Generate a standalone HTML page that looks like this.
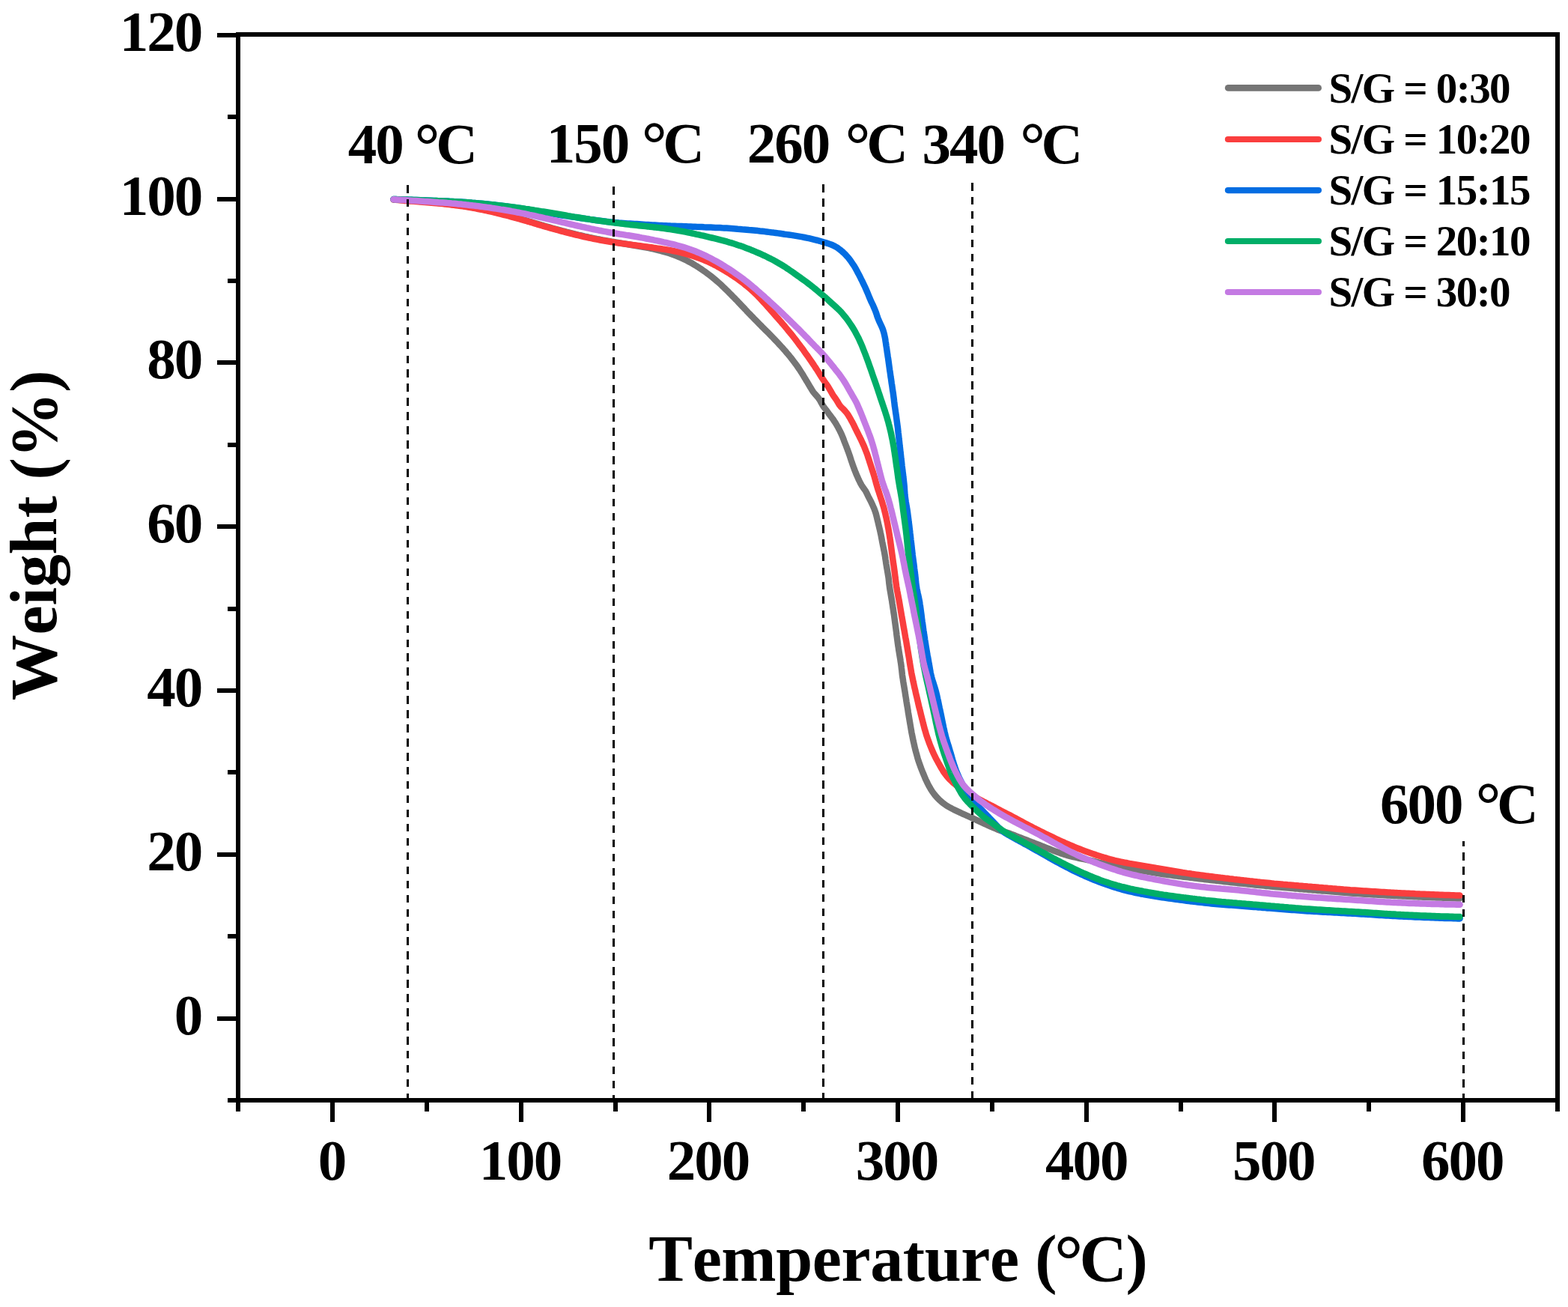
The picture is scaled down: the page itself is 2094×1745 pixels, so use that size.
<!DOCTYPE html>
<html lang="en">
<head>
<meta charset="utf-8">
<title>TGA curves: Weight (%) versus Temperature (°C)</title>
<style>
html,body{margin:0;padding:0;background:#fff;}
body{width:2094px;height:1745px;overflow:hidden;}
svg{display:block;}
text{font-family:"Liberation Serif","Times New Roman",Times,serif;font-weight:bold;fill:#000;font-kerning:none;font-variant-ligatures:none;white-space:pre;}
.tk{font-size:77px;letter-spacing:-2px;}
.an{font-size:77px;letter-spacing:-2px;}
.ti{font-size:88px;}
.lg{font-size:57px;letter-spacing:-1.58px;}
</style>
</head>
<body>
<svg xmlns="http://www.w3.org/2000/svg" width="2094" height="1745" viewBox="0 0 2094 1745">
<rect x="0" y="0" width="2094" height="1745" fill="#fff"/>
<g fill="none" stroke-linecap="round" stroke-linejoin="round" stroke-width="8.5">
<path stroke="#757575" d="M525.5 266.4L528.5 266.6L531.5 266.8L534.5 267.0L537.5 267.2L540.5 267.4L543.5 267.7L546.5 267.9L549.4 268.1L552.4 268.3L555.4 268.5L558.4 268.7L561.4 268.9L564.4 269.1L567.4 269.3L570.4 269.6L573.4 269.8L576.4 270.1L579.4 270.3L582.3 270.6L585.3 270.9L588.3 271.2L591.3 271.5L594.3 271.8L597.3 272.2L600.2 272.5L603.2 272.9L606.2 273.2L609.2 273.6L612.2 274.0L615.1 274.4L618.1 274.8L621.1 275.3L624.0 275.8L627.0 276.2L629.9 276.7L632.9 277.3L635.8 277.8L638.8 278.4L641.7 279.0L644.7 279.6L647.6 280.2L650.5 280.8L653.5 281.5L656.4 282.2L659.3 282.8L662.2 283.5L665.1 284.2L668.0 284.9L671.0 285.7L673.9 286.4L676.8 287.2L679.7 287.9L682.6 288.7L685.5 289.5L688.4 290.3L691.2 291.1L694.1 291.9L697.0 292.7L699.9 293.6L702.8 294.4L705.7 295.3L708.5 296.1L711.4 297.0L714.3 297.8L717.2 298.7L720.0 299.5L722.9 300.4L725.8 301.2L728.7 302.1L731.6 302.9L734.4 303.7L737.3 304.5L740.2 305.3L743.1 306.1L746.0 306.9L748.9 307.7L751.8 308.5L754.7 309.2L757.6 310.0L760.5 310.7L763.4 311.4L766.3 312.1L769.3 312.9L772.2 313.6L775.1 314.2L778.0 314.9L780.9 315.6L783.9 316.2L786.8 316.9L789.7 317.5L792.7 318.1L795.6 318.7L798.6 319.3L801.5 319.8L804.5 320.4L807.4 320.9L810.4 321.4L813.3 321.9L816.3 322.5L819.2 323.0L822.2 323.5L825.2 324.0L828.1 324.5L831.1 325.0L834.0 325.5L837.0 326.0L839.9 326.5L842.9 327.0L845.9 327.5L848.8 328.0L851.8 328.5L854.7 329.0L857.7 329.5L860.6 330.1L863.6 330.6L866.5 331.2L869.5 331.8L872.4 332.4L875.3 333.1L878.2 333.8L881.1 334.5L884.0 335.3L886.9 336.1L889.8 336.9L892.6 337.8L895.5 338.7L898.3 339.7L901.1 340.7L903.9 341.8L906.7 343.0L909.4 344.1L912.1 345.4L914.8 346.7L917.5 348.0L920.1 349.4L922.8 350.8L925.4 352.3L927.9 353.9L930.5 355.4L933.0 357.0L935.5 358.7L938.0 360.3L940.4 362.1L942.9 363.8L945.3 365.6L947.7 367.4L950.0 369.2L952.4 371.1L954.7 373.0L957.0 375.0L959.2 376.9L961.5 378.9L963.7 380.9L965.8 383.0L968.0 385.1L970.2 387.2L972.3 389.3L974.4 391.4L976.5 393.5L978.6 395.7L980.7 397.8L982.8 400.0L984.9 402.1L986.9 404.3L989.0 406.5L991.1 408.7L993.1 410.8L995.2 413.0L997.2 415.2L999.3 417.4L1001.4 419.5L1003.5 421.7L1005.6 423.8L1007.6 426.0L1009.7 428.1L1011.9 430.3L1014.0 432.4L1016.1 434.5L1018.2 436.7L1020.3 438.8L1022.4 440.9L1024.6 443.0L1026.7 445.1L1028.8 447.3L1030.9 449.4L1033.0 451.6L1035.0 453.7L1037.1 455.9L1039.2 458.1L1041.2 460.3L1043.2 462.5L1045.2 464.7L1047.2 467.0L1049.2 469.2L1051.1 471.5L1053.1 473.8L1055.0 476.1L1056.9 478.5L1058.7 480.8L1060.5 483.2L1062.3 485.6L1064.1 488.0L1065.8 490.5L1067.5 493.0L1069.1 495.5L1070.7 498.0L1072.3 500.6L1073.8 503.1L1075.4 505.7L1076.9 508.3L1078.5 510.8L1080.0 513.4L1081.5 516.0L1083.1 518.6L1084.6 521.1L1086.3 523.6L1088.2 525.9L1090.2 528.1L1092.2 530.4L1093.9 532.8L1095.5 535.3L1096.9 538.0L1098.4 540.6L1100.0 543.1L1101.8 545.5L1103.6 547.9L1105.4 550.3L1107.2 552.7L1109.0 555.1L1110.8 557.5L1112.6 559.9L1114.2 562.4L1115.9 564.9L1117.4 567.5L1118.9 570.1L1120.3 572.7L1121.7 575.4L1123.0 578.1L1124.2 580.8L1125.4 583.6L1126.5 586.4L1127.5 589.2L1128.6 592.0L1129.7 594.8L1130.8 597.6L1131.8 600.4L1132.9 603.2L1133.9 606.1L1134.9 608.9L1135.8 611.7L1136.7 614.6L1137.7 617.4L1138.7 620.3L1139.7 623.1L1140.7 625.9L1141.8 628.7L1142.9 631.5L1144.1 634.3L1145.3 637.0L1146.5 639.8L1147.8 642.5L1149.1 645.1L1150.6 647.8L1152.2 650.2L1154.0 652.7L1155.7 655.1L1157.1 657.7L1158.4 660.4L1159.7 663.1L1161.1 665.8L1162.5 668.4L1163.8 671.1L1165.1 673.8L1166.3 676.6L1167.5 679.3L1168.5 682.2L1169.5 685.0L1170.3 687.9L1171.0 690.8L1171.7 693.7L1172.4 696.6L1173.1 699.6L1173.8 702.5L1174.5 705.4L1175.2 708.3L1175.8 711.2L1176.5 714.2L1177.0 717.1L1177.6 720.1L1178.1 723.0L1178.7 726.0L1179.3 728.9L1179.9 731.9L1180.5 734.8L1181.1 737.7L1181.6 740.7L1182.1 743.6L1182.5 746.6L1183.0 749.6L1183.4 752.6L1183.9 755.5L1184.4 758.5L1184.9 761.4L1185.4 764.4L1185.9 767.3L1186.4 770.3L1186.8 773.3L1187.1 776.3L1187.4 779.2L1187.8 782.2L1188.2 785.2L1188.7 788.2L1189.2 791.1L1189.7 794.1L1190.2 797.0L1190.7 800.0L1191.2 802.9L1191.6 805.9L1192.1 808.9L1192.5 811.8L1193.0 814.8L1193.4 817.8L1193.9 820.7L1194.3 823.7L1194.7 826.7L1195.1 829.7L1195.5 832.6L1195.9 835.6L1196.3 838.6L1196.7 841.6L1197.1 844.5L1197.4 847.5L1197.8 850.5L1198.2 853.5L1198.6 856.4L1199.0 859.4L1199.4 862.4L1199.9 865.4L1200.3 868.3L1200.8 871.3L1201.3 874.2L1201.8 877.2L1202.3 880.2L1202.7 883.1L1203.2 886.1L1203.6 889.1L1203.9 892.0L1204.3 895.0L1204.6 898.0L1204.9 901.0L1205.3 904.0L1205.8 906.9L1206.2 909.9L1206.7 912.9L1207.2 915.8L1207.7 918.8L1208.2 921.7L1208.7 924.7L1209.1 927.7L1209.6 930.6L1210.1 933.6L1210.5 936.6L1211.0 939.5L1211.5 942.5L1212.0 945.4L1212.5 948.4L1212.9 951.4L1213.4 954.3L1213.9 957.3L1214.4 960.2L1214.9 963.2L1215.4 966.2L1215.9 969.1L1216.4 972.1L1216.9 975.0L1217.4 978.0L1218.0 980.9L1218.6 983.9L1219.2 986.8L1219.8 989.8L1220.5 992.7L1221.1 995.6L1221.8 998.5L1222.5 1001.4L1223.3 1004.3L1224.1 1007.2L1224.9 1010.1L1225.7 1013.0L1226.6 1015.9L1227.6 1018.7L1228.6 1021.5L1229.6 1024.4L1230.7 1027.2L1231.8 1030.0L1232.9 1032.7L1234.1 1035.5L1235.2 1038.3L1236.4 1041.0L1237.7 1043.7L1239.0 1046.4L1240.4 1049.1L1241.9 1051.7L1243.4 1054.3L1245.0 1056.8L1246.8 1059.2L1248.6 1061.6L1250.6 1063.9L1252.6 1066.1L1254.7 1068.2L1256.9 1070.2L1259.3 1072.1L1261.7 1073.9L1264.1 1075.6L1266.7 1077.1L1269.3 1078.6L1272.0 1080.0L1274.7 1081.3L1277.4 1082.6L1280.1 1083.9L1282.8 1085.2L1285.5 1086.5L1288.3 1087.7L1291.0 1088.9L1293.8 1090.1L1296.5 1091.3L1299.2 1092.5L1302.0 1093.8L1304.7 1095.1L1307.4 1096.4L1310.1 1097.7L1312.8 1098.9L1315.5 1100.2L1318.3 1101.4L1321.0 1102.7L1323.7 1103.9L1326.5 1105.0L1329.3 1106.2L1332.0 1107.4L1334.8 1108.4L1337.7 1109.4L1340.5 1110.3L1343.4 1111.2L1346.2 1112.1L1349.1 1113.1L1351.9 1114.2L1354.7 1115.3L1357.4 1116.4L1360.2 1117.5L1363.0 1118.5L1365.8 1119.6L1368.6 1120.7L1371.4 1121.8L1374.2 1122.9L1377.0 1124.0L1379.8 1125.0L1382.6 1126.1L1385.4 1127.2L1388.2 1128.3L1391.0 1129.4L1393.8 1130.5L1396.6 1131.6L1399.4 1132.7L1402.2 1133.8L1404.9 1134.9L1407.7 1136.0L1410.5 1137.0L1413.3 1138.1L1416.1 1139.1L1419.0 1140.0L1421.8 1140.9L1424.7 1141.8L1427.6 1142.6L1430.4 1143.3L1433.4 1144.0L1436.3 1144.7L1439.2 1145.3L1442.1 1146.0L1445.1 1146.6L1448.0 1147.2L1450.9 1147.8L1453.9 1148.4L1456.8 1149.0L1459.7 1149.7L1462.6 1150.4L1465.5 1151.1L1468.5 1151.8L1471.4 1152.4L1474.3 1153.1L1477.2 1153.8L1480.1 1154.5L1483.1 1155.1L1486.0 1155.7L1488.9 1156.3L1491.9 1156.8L1494.8 1157.4L1497.8 1157.9L1500.7 1158.4L1503.7 1158.9L1506.7 1159.4L1509.6 1159.9L1512.6 1160.4L1515.5 1160.9L1518.5 1161.4L1521.4 1161.9L1524.4 1162.4L1527.4 1162.9L1530.3 1163.4L1533.3 1163.9L1536.2 1164.4L1539.2 1164.9L1542.2 1165.3L1545.1 1165.8L1548.1 1166.3L1551.1 1166.7L1554.0 1167.2L1557.0 1167.6L1560.0 1168.0L1562.9 1168.4L1565.9 1168.8L1568.9 1169.2L1571.9 1169.6L1574.8 1169.9L1577.8 1170.3L1580.8 1170.7L1583.8 1171.0L1586.8 1171.4L1589.7 1171.8L1592.7 1172.1L1595.7 1172.5L1598.7 1172.8L1601.7 1173.2L1604.6 1173.5L1607.6 1173.9L1610.6 1174.2L1613.6 1174.6L1616.6 1174.9L1619.5 1175.2L1622.5 1175.6L1625.5 1175.9L1628.5 1176.3L1631.5 1176.6L1634.4 1176.9L1637.4 1177.2L1640.4 1177.6L1643.4 1177.9L1646.4 1178.2L1649.4 1178.5L1652.3 1178.9L1655.3 1179.2L1658.3 1179.5L1661.3 1179.8L1664.3 1180.1L1667.3 1180.4L1670.2 1180.8L1673.2 1181.1L1676.2 1181.4L1679.2 1181.7L1682.2 1182.0L1685.2 1182.3L1688.2 1182.6L1691.1 1182.9L1694.1 1183.1L1697.1 1183.4L1700.1 1183.7L1703.1 1184.0L1706.1 1184.3L1709.1 1184.5L1712.1 1184.8L1715.0 1185.1L1718.0 1185.3L1721.0 1185.6L1724.0 1185.8L1727.0 1186.1L1730.0 1186.4L1733.0 1186.6L1736.0 1186.9L1739.0 1187.1L1742.0 1187.4L1744.9 1187.6L1747.9 1187.9L1750.9 1188.1L1753.9 1188.4L1756.9 1188.6L1759.9 1188.9L1762.9 1189.1L1765.9 1189.4L1768.9 1189.6L1771.9 1189.8L1774.8 1190.1L1777.8 1190.3L1780.8 1190.6L1783.8 1190.8L1786.8 1191.1L1789.8 1191.3L1792.8 1191.5L1795.8 1191.8L1798.8 1192.0L1801.8 1192.2L1804.8 1192.5L1807.7 1192.7L1810.7 1192.9L1813.7 1193.1L1816.7 1193.3L1819.7 1193.5L1822.7 1193.7L1825.7 1193.9L1828.7 1194.1L1831.7 1194.3L1834.7 1194.4L1837.7 1194.6L1840.7 1194.8L1843.7 1194.9L1846.7 1195.1L1849.7 1195.3L1852.7 1195.4L1855.7 1195.6L1858.7 1195.7L1861.7 1195.9L1864.7 1196.0L1867.7 1196.2L1870.7 1196.3L1873.6 1196.5L1876.6 1196.6L1879.6 1196.8L1882.6 1196.9L1885.6 1197.0L1888.6 1197.2L1891.6 1197.3L1894.6 1197.4L1897.6 1197.6L1900.6 1197.7L1903.6 1197.8L1906.6 1197.9L1909.6 1198.1L1912.6 1198.2L1915.6 1198.3L1918.6 1198.4L1921.6 1198.5L1924.6 1198.6L1927.6 1198.7L1930.6 1198.9L1933.6 1199.0L1936.6 1199.1L1939.6 1199.2L1942.6 1199.3L1945.6 1199.4L1948.6 1199.5L1949.6 1199.5"/>
<path stroke="#FA3E3E" d="M525.5 266.5L528.5 266.8L531.5 267.1L534.5 267.3L537.4 267.6L540.4 267.9L543.4 268.1L546.4 268.4L549.4 268.6L552.4 268.8L555.4 269.1L558.4 269.3L561.4 269.5L564.4 269.7L567.4 270.0L570.3 270.2L573.3 270.4L576.3 270.7L579.3 270.9L582.3 271.2L585.3 271.5L588.3 271.8L591.3 272.1L594.2 272.4L597.2 272.8L600.2 273.1L603.2 273.5L606.2 273.8L609.1 274.2L612.1 274.6L615.1 275.0L618.0 275.4L621.0 275.9L624.0 276.3L626.9 276.8L629.9 277.3L632.8 277.9L635.8 278.4L638.7 279.0L641.7 279.6L644.6 280.2L647.5 280.8L650.5 281.4L653.4 282.1L656.3 282.7L659.2 283.4L662.2 284.1L665.1 284.8L668.0 285.5L670.9 286.3L673.8 287.0L676.7 287.7L679.6 288.5L682.5 289.3L685.4 290.1L688.3 290.9L691.2 291.7L694.1 292.5L697.0 293.3L699.8 294.2L702.7 295.0L705.6 295.8L708.5 296.7L711.4 297.5L714.2 298.4L717.1 299.3L720.0 300.1L722.9 301.0L725.7 301.8L728.6 302.6L731.5 303.5L734.4 304.3L737.3 305.1L740.2 305.9L743.1 306.7L745.9 307.5L748.8 308.3L751.7 309.0L754.6 309.8L757.6 310.6L760.5 311.3L763.4 312.0L766.3 312.8L769.2 313.5L772.1 314.2L775.0 314.9L777.9 315.6L780.9 316.3L783.8 316.9L786.7 317.6L789.7 318.2L792.6 318.8L795.5 319.4L798.5 319.9L801.4 320.5L804.4 321.0L807.3 321.5L810.3 322.0L813.2 322.5L816.2 323.0L819.2 323.4L822.1 323.9L825.1 324.3L828.1 324.7L831.1 325.1L834.0 325.5L837.0 325.9L840.0 326.3L842.9 326.7L845.9 327.1L848.9 327.5L851.9 327.9L854.8 328.3L857.8 328.7L860.8 329.1L863.8 329.5L866.7 329.9L869.7 330.3L872.7 330.8L875.6 331.2L878.6 331.6L881.6 332.0L884.6 332.5L887.5 332.9L890.5 333.4L893.4 333.9L896.4 334.4L899.3 335.0L902.3 335.6L905.2 336.2L908.1 336.9L911.0 337.6L913.9 338.4L916.8 339.2L919.7 340.0L922.5 340.9L925.4 341.8L928.2 342.7L931.0 343.7L933.9 344.7L936.7 345.7L939.4 346.8L942.2 348.0L944.9 349.2L947.6 350.4L950.3 351.7L953.0 353.1L955.7 354.4L958.3 355.9L960.9 357.3L963.5 358.8L966.1 360.3L968.7 361.8L971.2 363.4L973.8 365.0L976.3 366.6L978.8 368.2L981.3 369.9L983.8 371.6L986.2 373.3L988.6 375.1L991.0 376.9L993.4 378.7L995.7 380.6L998.1 382.5L1000.3 384.4L1002.6 386.4L1004.8 388.4L1007.0 390.4L1009.2 392.5L1011.3 394.6L1013.4 396.7L1015.5 398.9L1017.5 401.1L1019.5 403.3L1021.5 405.5L1023.5 407.7L1025.5 410.0L1027.5 412.2L1029.5 414.5L1031.5 416.7L1033.5 419.0L1035.4 421.2L1037.4 423.5L1039.4 425.7L1041.4 428.0L1043.4 430.2L1045.3 432.5L1047.3 434.8L1049.2 437.1L1051.1 439.4L1053.0 441.7L1054.9 444.0L1056.8 446.3L1058.7 448.7L1060.5 451.0L1062.4 453.4L1064.2 455.8L1066.0 458.2L1067.8 460.6L1069.6 463.0L1071.4 465.4L1073.2 467.8L1074.9 470.3L1076.6 472.7L1078.4 475.1L1080.1 477.6L1081.8 480.1L1083.5 482.5L1085.2 485.0L1086.9 487.5L1088.5 490.0L1090.2 492.5L1091.8 495.0L1093.4 497.6L1095.0 500.1L1096.6 502.6L1098.2 505.2L1099.9 507.7L1101.6 510.1L1103.3 512.6L1105.1 515.0L1106.7 517.5L1108.2 520.1L1109.7 522.7L1111.2 525.3L1112.7 527.9L1114.4 530.3L1116.2 532.8L1117.8 535.3L1119.3 537.8L1120.8 540.4L1122.6 542.7L1124.7 544.8L1126.9 546.9L1128.9 549.1L1130.8 551.4L1132.5 553.8L1134.1 556.4L1135.6 559.0L1137.0 561.6L1138.5 564.2L1139.9 566.9L1141.2 569.6L1142.5 572.3L1143.8 575.0L1145.2 577.7L1146.5 580.3L1147.8 583.0L1149.2 585.7L1150.5 588.4L1151.7 591.1L1153.0 593.9L1154.2 596.6L1155.3 599.4L1156.4 602.2L1157.5 605.0L1158.5 607.8L1159.4 610.7L1160.4 613.5L1161.3 616.4L1162.2 619.2L1163.1 622.1L1164.0 624.9L1165.0 627.8L1165.9 630.6L1166.8 633.5L1167.7 636.4L1168.5 639.3L1169.3 642.2L1170.0 645.0L1170.9 647.9L1171.7 650.8L1172.6 653.7L1173.6 656.5L1174.5 659.4L1175.4 662.2L1176.3 665.1L1177.3 667.9L1178.2 670.8L1179.0 673.7L1179.9 676.5L1180.7 679.4L1181.4 682.3L1182.2 685.3L1182.8 688.2L1183.5 691.1L1184.1 694.0L1184.7 697.0L1185.3 699.9L1185.8 702.9L1186.4 705.8L1186.9 708.8L1187.4 711.7L1187.9 714.7L1188.3 717.7L1188.8 720.6L1189.2 723.6L1189.6 726.6L1190.0 729.5L1190.4 732.5L1190.8 735.5L1191.2 738.5L1191.6 741.4L1192.0 744.4L1192.4 747.4L1192.8 750.4L1193.2 753.3L1193.7 756.3L1194.1 759.3L1194.5 762.2L1194.9 765.2L1195.3 768.2L1195.6 771.2L1196.0 774.1L1196.4 777.1L1196.8 780.1L1197.2 783.1L1197.7 786.0L1198.2 789.0L1198.8 791.9L1199.3 794.9L1199.9 797.8L1200.5 800.8L1201.0 803.7L1201.5 806.7L1202.0 809.6L1202.5 812.6L1203.0 815.5L1203.5 818.5L1204.0 821.5L1204.5 824.4L1205.1 827.4L1205.6 830.3L1206.1 833.3L1206.6 836.2L1207.1 839.2L1207.7 842.1L1208.2 845.1L1208.7 848.1L1209.2 851.0L1209.8 854.0L1210.3 856.9L1210.8 859.9L1211.3 862.8L1211.8 865.8L1212.3 868.7L1212.8 871.7L1213.3 874.7L1213.8 877.6L1214.3 880.6L1214.7 883.5L1215.2 886.5L1215.7 889.5L1216.2 892.4L1216.7 895.4L1217.2 898.3L1217.8 901.3L1218.4 904.2L1219.0 907.2L1219.6 910.1L1220.3 913.0L1220.9 916.0L1221.6 918.9L1222.3 921.8L1222.9 924.7L1223.6 927.7L1224.3 930.6L1225.0 933.5L1225.7 936.4L1226.3 939.3L1227.0 942.3L1227.7 945.2L1228.5 948.1L1229.2 951.0L1229.9 953.9L1230.6 956.8L1231.3 959.7L1232.1 962.6L1232.8 965.6L1233.6 968.5L1234.3 971.4L1235.1 974.3L1236.0 977.1L1236.8 980.0L1237.7 982.9L1238.7 985.7L1239.7 988.5L1240.7 991.4L1241.8 994.2L1242.9 997.0L1244.0 999.7L1245.2 1002.5L1246.4 1005.2L1247.7 1008.0L1249.0 1010.7L1250.3 1013.3L1251.8 1016.0L1253.2 1018.6L1254.7 1021.2L1256.1 1023.8L1257.7 1026.4L1259.2 1029.0L1260.9 1031.5L1262.6 1033.9L1264.5 1036.2L1266.4 1038.5L1268.5 1040.7L1270.6 1042.8L1272.8 1044.9L1275.1 1046.8L1277.4 1048.7L1279.8 1050.5L1282.2 1052.3L1284.7 1054.0L1287.2 1055.6L1289.8 1057.2L1292.3 1058.7L1294.9 1060.2L1297.6 1061.7L1300.2 1063.1L1302.8 1064.6L1305.5 1066.0L1308.1 1067.4L1310.7 1068.8L1313.4 1070.2L1316.1 1071.6L1318.7 1073.0L1321.4 1074.3L1324.1 1075.7L1326.8 1077.0L1329.4 1078.4L1332.1 1079.9L1334.7 1081.3L1337.3 1082.7L1340.0 1084.1L1342.7 1085.4L1345.4 1086.8L1348.1 1088.1L1350.7 1089.5L1353.4 1090.9L1356.0 1092.3L1358.6 1093.7L1361.3 1095.2L1363.9 1096.6L1366.5 1098.0L1369.2 1099.4L1371.8 1100.8L1374.5 1102.2L1377.2 1103.6L1379.8 1105.0L1382.5 1106.3L1385.2 1107.7L1387.9 1109.0L1390.5 1110.4L1393.2 1111.7L1395.9 1113.0L1398.6 1114.3L1401.3 1115.6L1404.0 1116.9L1406.7 1118.2L1409.4 1119.5L1412.2 1120.8L1414.9 1122.1L1417.6 1123.3L1420.3 1124.5L1423.1 1125.8L1425.8 1127.0L1428.6 1128.2L1431.3 1129.3L1434.1 1130.5L1436.9 1131.6L1439.7 1132.7L1442.5 1133.8L1445.3 1134.9L1448.1 1136.0L1450.9 1137.0L1453.7 1138.0L1456.5 1139.0L1459.4 1140.0L1462.2 1140.9L1465.1 1141.9L1467.9 1142.8L1470.8 1143.7L1473.6 1144.6L1476.5 1145.4L1479.4 1146.3L1482.3 1147.1L1485.1 1147.8L1488.0 1148.6L1491.0 1149.3L1493.9 1150.0L1496.8 1150.6L1499.7 1151.2L1502.7 1151.8L1505.6 1152.3L1508.6 1152.9L1511.5 1153.4L1514.5 1153.9L1517.4 1154.4L1520.4 1154.9L1523.3 1155.4L1526.3 1155.9L1529.2 1156.4L1532.2 1156.9L1535.2 1157.4L1538.1 1157.9L1541.1 1158.4L1544.0 1159.0L1547.0 1159.5L1549.9 1160.0L1552.9 1160.5L1555.9 1161.0L1558.8 1161.5L1561.8 1162.0L1564.7 1162.5L1567.7 1163.0L1570.6 1163.5L1573.6 1164.0L1576.6 1164.5L1579.5 1165.0L1582.5 1165.4L1585.5 1165.9L1588.4 1166.3L1591.4 1166.8L1594.4 1167.2L1597.3 1167.6L1600.3 1168.0L1603.3 1168.4L1606.3 1168.8L1609.2 1169.2L1612.2 1169.6L1615.2 1169.9L1618.2 1170.3L1621.1 1170.7L1624.1 1171.1L1627.1 1171.4L1630.1 1171.8L1633.0 1172.1L1636.0 1172.5L1639.0 1172.8L1642.0 1173.2L1645.0 1173.5L1647.9 1173.9L1650.9 1174.2L1653.9 1174.6L1656.9 1174.9L1659.9 1175.2L1662.9 1175.6L1665.8 1175.9L1668.8 1176.3L1671.8 1176.6L1674.8 1176.9L1677.8 1177.2L1680.7 1177.6L1683.7 1177.9L1686.7 1178.2L1689.7 1178.5L1692.7 1178.8L1695.7 1179.1L1698.7 1179.4L1701.6 1179.7L1704.6 1179.9L1707.6 1180.2L1710.6 1180.5L1713.6 1180.8L1716.6 1181.0L1719.6 1181.3L1722.6 1181.5L1725.5 1181.8L1728.5 1182.1L1731.5 1182.3L1734.5 1182.6L1737.5 1182.8L1740.5 1183.1L1743.5 1183.3L1746.5 1183.6L1749.5 1183.8L1752.5 1184.1L1755.4 1184.3L1758.4 1184.5L1761.4 1184.8L1764.4 1185.0L1767.4 1185.3L1770.4 1185.5L1773.4 1185.8L1776.4 1186.0L1779.4 1186.3L1782.4 1186.5L1785.3 1186.8L1788.3 1187.0L1791.3 1187.2L1794.3 1187.5L1797.3 1187.7L1800.3 1187.9L1803.3 1188.2L1806.3 1188.4L1809.3 1188.6L1812.3 1188.8L1815.3 1189.0L1818.3 1189.2L1821.2 1189.4L1824.2 1189.6L1827.2 1189.8L1830.2 1190.0L1833.2 1190.2L1836.2 1190.3L1839.2 1190.5L1842.2 1190.7L1845.2 1190.9L1848.2 1191.0L1851.2 1191.2L1854.2 1191.4L1857.2 1191.6L1860.2 1191.7L1863.2 1191.9L1866.2 1192.1L1869.2 1192.2L1872.2 1192.4L1875.2 1192.5L1878.2 1192.7L1881.2 1192.8L1884.1 1193.0L1887.1 1193.1L1890.1 1193.3L1893.1 1193.4L1896.1 1193.6L1899.1 1193.7L1902.1 1193.8L1905.1 1194.0L1908.1 1194.1L1911.1 1194.2L1914.1 1194.3L1917.1 1194.5L1920.1 1194.6L1923.1 1194.7L1926.1 1194.8L1929.1 1194.9L1932.1 1195.0L1935.1 1195.1L1938.1 1195.2L1941.1 1195.3L1944.1 1195.4L1947.1 1195.5L1949.6 1195.6"/>
<path stroke="#046DE2" d="M525.5 266.0L528.5 266.1L531.5 266.2L534.5 266.3L537.5 266.4L540.5 266.5L543.5 266.6L546.5 266.7L549.5 266.8L552.5 266.9L555.5 267.0L558.5 267.1L561.5 267.2L564.5 267.4L567.5 267.5L570.5 267.6L573.5 267.7L576.5 267.8L579.5 267.9L582.5 268.0L585.5 268.2L588.5 268.3L591.5 268.4L594.5 268.5L597.5 268.6L600.5 268.8L603.5 268.9L606.4 269.1L609.4 269.2L612.4 269.4L615.4 269.6L618.4 269.8L621.4 270.0L624.4 270.2L627.4 270.4L630.4 270.7L633.4 270.9L636.4 271.2L639.4 271.5L642.3 271.7L645.3 272.0L648.3 272.3L651.3 272.6L654.3 272.9L657.3 273.3L660.3 273.6L663.2 273.9L666.2 274.3L669.2 274.6L672.2 275.0L675.1 275.4L678.1 275.8L681.1 276.2L684.1 276.6L687.0 277.0L690.0 277.4L693.0 277.8L695.9 278.3L698.9 278.7L701.9 279.2L704.8 279.7L707.8 280.2L710.8 280.7L713.7 281.2L716.7 281.6L719.6 282.2L722.6 282.7L725.5 283.2L728.5 283.7L731.5 284.2L734.4 284.7L737.4 285.2L740.3 285.7L743.3 286.2L746.2 286.7L749.2 287.2L752.2 287.7L755.1 288.1L758.1 288.6L761.1 289.0L764.0 289.5L767.0 289.9L770.0 290.3L772.9 290.8L775.9 291.2L778.9 291.6L781.9 292.0L784.8 292.4L787.8 292.9L790.8 293.3L793.7 293.7L796.7 294.1L799.7 294.5L802.6 294.9L805.6 295.3L808.6 295.7L811.6 296.1L814.5 296.4L817.5 296.8L820.5 297.1L823.5 297.3L826.5 297.6L829.5 297.8L832.5 298.0L835.4 298.2L838.4 298.4L841.4 298.6L844.4 298.8L847.4 299.0L850.4 299.1L853.4 299.3L856.4 299.5L859.4 299.7L862.4 299.9L865.4 300.0L868.4 300.2L871.4 300.4L874.4 300.5L877.4 300.7L880.4 300.9L883.4 301.0L886.4 301.2L889.4 301.3L892.4 301.4L895.4 301.6L898.4 301.7L901.4 301.8L904.4 301.9L907.4 302.0L910.3 302.1L913.3 302.2L916.3 302.3L919.3 302.4L922.3 302.5L925.3 302.7L928.3 302.8L931.3 302.9L934.3 303.0L937.3 303.1L940.3 303.3L943.3 303.4L946.3 303.5L949.3 303.6L952.3 303.7L955.3 303.9L958.3 304.0L961.3 304.1L964.3 304.3L967.3 304.4L970.3 304.6L973.3 304.8L976.3 305.0L979.3 305.2L982.2 305.4L985.2 305.7L988.2 305.9L991.2 306.2L994.2 306.4L997.2 306.7L1000.2 307.0L1003.2 307.2L1006.2 307.5L1009.1 307.8L1012.1 308.1L1015.1 308.5L1018.1 308.8L1021.1 309.1L1024.0 309.5L1027.0 309.9L1030.0 310.3L1033.0 310.6L1036.0 311.0L1038.9 311.4L1041.9 311.8L1044.9 312.2L1047.8 312.7L1050.8 313.1L1053.8 313.5L1056.7 313.9L1059.7 314.4L1062.7 314.9L1065.6 315.4L1068.6 315.9L1071.5 316.4L1074.5 317.0L1077.4 317.6L1080.3 318.2L1083.3 318.9L1086.2 319.6L1089.1 320.3L1092.0 321.0L1094.9 321.8L1097.7 322.7L1100.6 323.5L1103.5 324.4L1106.3 325.3L1109.1 326.2L1111.9 327.3L1114.6 328.6L1117.2 330.1L1119.7 331.8L1122.1 333.6L1124.4 335.5L1126.6 337.5L1128.8 339.6L1130.8 341.8L1132.8 344.0L1134.6 346.4L1136.4 348.8L1138.1 351.3L1139.8 353.8L1141.4 356.3L1142.9 358.9L1144.3 361.5L1145.7 364.2L1147.1 366.8L1148.5 369.5L1149.8 372.2L1151.2 374.9L1152.5 377.6L1153.8 380.3L1155.1 383.0L1156.3 385.7L1157.5 388.5L1158.7 391.2L1159.8 394.0L1160.9 396.8L1162.1 399.5L1163.3 402.3L1164.6 405.0L1165.9 407.7L1167.1 410.5L1168.3 413.2L1169.4 416.0L1170.4 418.8L1171.3 421.7L1172.3 424.5L1173.4 427.3L1174.6 430.0L1175.9 432.8L1177.2 435.5L1178.4 438.2L1179.4 441.0L1180.3 443.9L1181.0 446.8L1181.6 449.7L1182.2 452.7L1182.6 455.6L1183.1 458.6L1183.5 461.6L1184.0 464.6L1184.4 467.5L1184.8 470.5L1185.3 473.5L1185.7 476.4L1186.2 479.4L1186.6 482.4L1187.0 485.3L1187.4 488.3L1187.8 491.3L1188.2 494.2L1188.7 497.2L1189.1 500.2L1189.5 503.2L1190.0 506.1L1190.4 509.1L1190.8 512.1L1191.3 515.0L1191.7 518.0L1192.1 521.0L1192.6 523.9L1193.0 526.9L1193.4 529.9L1193.8 532.9L1194.1 535.8L1194.5 538.8L1194.8 541.8L1195.3 544.8L1195.7 547.7L1196.1 550.7L1196.6 553.7L1197.0 556.6L1197.4 559.6L1197.8 562.6L1198.2 565.6L1198.6 568.5L1199.0 571.5L1199.3 574.5L1199.6 577.5L1200.0 580.5L1200.3 583.4L1200.6 586.4L1201.0 589.4L1201.3 592.4L1201.6 595.4L1202.0 598.3L1202.3 601.3L1202.6 604.3L1203.0 607.3L1203.3 610.3L1203.6 613.3L1204.0 616.2L1204.3 619.2L1204.6 622.2L1205.0 625.2L1205.3 628.2L1205.7 631.1L1206.1 634.1L1206.4 637.1L1206.8 640.1L1207.1 643.1L1207.4 646.0L1207.7 649.0L1207.9 652.0L1208.1 655.0L1208.3 658.0L1208.5 661.0L1208.9 664.0L1209.3 667.0L1209.7 669.9L1210.2 672.9L1210.7 675.8L1211.2 678.8L1211.7 681.8L1212.1 684.7L1212.5 687.7L1212.9 690.7L1213.3 693.7L1213.6 696.6L1214.0 699.6L1214.4 702.6L1214.7 705.6L1215.1 708.5L1215.4 711.5L1215.8 714.5L1216.1 717.5L1216.4 720.5L1216.8 723.5L1217.1 726.4L1217.5 729.4L1217.8 732.4L1218.1 735.4L1218.5 738.4L1218.8 741.3L1219.2 744.3L1219.6 747.3L1220.0 750.3L1220.4 753.2L1220.8 756.2L1221.1 759.2L1221.5 762.2L1221.9 765.1L1222.2 768.1L1222.6 771.1L1222.9 774.1L1223.1 777.1L1223.5 780.1L1223.9 783.0L1224.4 786.0L1225.0 788.9L1225.6 791.9L1226.3 794.8L1226.9 797.7L1227.5 800.7L1228.1 803.6L1228.5 806.6L1229.0 809.5L1229.4 812.5L1229.8 815.5L1230.2 818.5L1230.6 821.4L1230.9 824.4L1231.3 827.4L1231.7 830.4L1232.2 833.3L1232.6 836.3L1233.0 839.3L1233.4 842.2L1233.9 845.2L1234.3 848.2L1234.8 851.1L1235.2 854.1L1235.7 857.1L1236.1 860.0L1236.6 863.0L1237.1 866.0L1237.6 868.9L1238.1 871.9L1238.6 874.8L1239.2 877.8L1239.7 880.7L1240.2 883.7L1240.7 886.6L1241.3 889.6L1241.8 892.6L1242.3 895.5L1242.8 898.5L1243.5 901.4L1244.2 904.3L1245.0 907.2L1245.9 910.1L1246.8 912.9L1247.7 915.8L1248.6 918.6L1249.4 921.5L1250.2 924.4L1250.9 927.3L1251.6 930.3L1252.2 933.2L1252.9 936.1L1253.5 939.1L1254.1 942.0L1254.7 944.9L1255.4 947.9L1256.0 950.8L1256.6 953.7L1257.2 956.7L1257.8 959.6L1258.4 962.5L1259.0 965.5L1259.6 968.4L1260.2 971.4L1260.9 974.3L1261.5 977.2L1262.2 980.1L1262.9 983.1L1263.7 985.9L1264.5 988.8L1265.4 991.7L1266.3 994.6L1267.2 997.4L1268.0 1000.3L1268.9 1003.2L1269.8 1006.1L1270.6 1008.9L1271.4 1011.8L1272.2 1014.7L1273.1 1017.6L1274.0 1020.5L1274.9 1023.3L1275.9 1026.1L1276.9 1029.0L1278.0 1031.7L1279.2 1034.5L1280.4 1037.2L1281.7 1040.0L1283.1 1042.6L1284.4 1045.3L1285.8 1048.0L1287.3 1050.6L1288.8 1053.2L1290.3 1055.8L1291.9 1058.3L1293.6 1060.8L1295.2 1063.3L1297.0 1065.7L1298.8 1068.1L1300.7 1070.5L1302.6 1072.7L1304.7 1074.9L1306.8 1077.1L1308.9 1079.2L1311.0 1081.3L1313.1 1083.4L1315.2 1085.6L1317.3 1087.8L1319.4 1089.9L1321.4 1092.1L1323.5 1094.3L1325.6 1096.4L1327.7 1098.6L1329.7 1100.8L1331.8 1102.9L1333.9 1105.1L1336.0 1107.2L1338.3 1109.1L1340.6 1111.0L1343.1 1112.7L1345.6 1114.2L1348.2 1115.6L1350.8 1117.1L1353.5 1118.6L1356.1 1120.0L1358.7 1121.4L1361.3 1122.9L1364.0 1124.3L1366.6 1125.7L1369.2 1127.2L1371.9 1128.6L1374.5 1130.1L1377.1 1131.5L1379.7 1133.0L1382.3 1134.5L1384.9 1135.9L1387.5 1137.4L1390.1 1138.9L1392.7 1140.4L1395.4 1141.9L1398.0 1143.4L1400.6 1144.9L1403.2 1146.3L1405.8 1147.8L1408.4 1149.2L1411.1 1150.7L1413.7 1152.1L1416.3 1153.5L1419.0 1154.9L1421.6 1156.3L1424.3 1157.7L1427.0 1159.1L1429.6 1160.5L1432.3 1161.8L1435.0 1163.1L1437.7 1164.4L1440.4 1165.7L1443.1 1167.0L1445.9 1168.2L1448.6 1169.5L1451.3 1170.7L1454.1 1171.9L1456.9 1173.0L1459.6 1174.2L1462.4 1175.3L1465.2 1176.4L1468.0 1177.5L1470.8 1178.5L1473.6 1179.6L1476.4 1180.6L1479.3 1181.6L1482.1 1182.5L1485.0 1183.5L1487.8 1184.4L1490.7 1185.3L1493.5 1186.2L1496.4 1187.0L1499.3 1187.8L1502.2 1188.6L1505.1 1189.3L1508.0 1190.0L1510.9 1190.7L1513.9 1191.3L1516.8 1192.0L1519.7 1192.6L1522.7 1193.2L1525.6 1193.7L1528.6 1194.3L1531.5 1194.8L1534.5 1195.3L1537.4 1195.8L1540.4 1196.3L1543.3 1196.8L1546.3 1197.2L1549.3 1197.7L1552.2 1198.2L1555.2 1198.6L1558.2 1199.1L1561.1 1199.5L1564.1 1199.9L1567.1 1200.3L1570.1 1200.7L1573.0 1201.1L1576.0 1201.5L1579.0 1201.9L1582.0 1202.3L1584.9 1202.7L1587.9 1203.1L1590.9 1203.4L1593.9 1203.8L1596.8 1204.1L1599.8 1204.5L1602.8 1204.8L1605.8 1205.1L1608.8 1205.5L1611.8 1205.8L1614.7 1206.1L1617.7 1206.4L1620.7 1206.7L1623.7 1206.9L1626.7 1207.2L1629.7 1207.5L1632.7 1207.7L1635.7 1207.9L1638.6 1208.2L1641.6 1208.4L1644.6 1208.6L1647.6 1208.8L1650.6 1209.0L1653.6 1209.2L1656.6 1209.5L1659.6 1209.7L1662.6 1209.9L1665.6 1210.2L1668.6 1210.4L1671.6 1210.7L1674.5 1210.9L1677.5 1211.1L1680.5 1211.4L1683.5 1211.6L1686.5 1211.9L1689.5 1212.1L1692.5 1212.4L1695.5 1212.6L1698.5 1212.8L1701.5 1213.1L1704.4 1213.3L1707.4 1213.5L1710.4 1213.8L1713.4 1214.0L1716.4 1214.2L1719.4 1214.5L1722.4 1214.7L1725.4 1214.9L1728.4 1215.1L1731.4 1215.3L1734.4 1215.6L1737.4 1215.8L1740.4 1216.0L1743.3 1216.2L1746.3 1216.4L1749.3 1216.6L1752.3 1216.8L1755.3 1217.0L1758.3 1217.1L1761.3 1217.3L1764.3 1217.5L1767.3 1217.7L1770.3 1217.8L1773.3 1218.0L1776.3 1218.1L1779.3 1218.3L1782.3 1218.5L1785.3 1218.6L1788.3 1218.8L1791.3 1218.9L1794.3 1219.1L1797.3 1219.2L1800.3 1219.4L1803.3 1219.5L1806.3 1219.7L1809.3 1219.8L1812.2 1220.0L1815.2 1220.2L1818.2 1220.4L1821.2 1220.6L1824.2 1220.8L1827.2 1220.9L1830.2 1221.1L1833.2 1221.3L1836.2 1221.5L1839.2 1221.7L1842.2 1221.9L1845.2 1222.1L1848.2 1222.2L1851.2 1222.4L1854.2 1222.6L1857.2 1222.8L1860.2 1222.9L1863.2 1223.1L1866.2 1223.2L1869.2 1223.4L1872.1 1223.5L1875.1 1223.7L1878.1 1223.8L1881.1 1224.0L1884.1 1224.1L1887.1 1224.2L1890.1 1224.4L1893.1 1224.5L1896.1 1224.6L1899.1 1224.7L1902.1 1224.9L1905.1 1225.0L1908.1 1225.1L1911.1 1225.2L1914.1 1225.3L1917.1 1225.4L1920.1 1225.5L1923.1 1225.7L1926.1 1225.8L1929.1 1225.9L1932.1 1226.0L1935.1 1226.1L1938.1 1226.1L1941.1 1226.2L1944.1 1226.3L1947.1 1226.4L1949.6 1226.5"/>
<path stroke="#00AE68" d="M525.5 266.0L528.5 266.1L531.5 266.2L534.5 266.3L537.5 266.4L540.5 266.5L543.5 266.6L546.5 266.7L549.5 266.8L552.5 266.9L555.5 267.0L558.5 267.2L561.5 267.3L564.5 267.4L567.5 267.5L570.5 267.7L573.5 267.8L576.5 267.9L579.5 268.0L582.5 268.1L585.5 268.3L588.5 268.4L591.5 268.5L594.5 268.6L597.5 268.7L600.4 268.9L603.4 269.0L606.4 269.2L609.4 269.4L612.4 269.5L615.4 269.7L618.4 269.9L621.4 270.1L624.4 270.3L627.4 270.5L630.4 270.8L633.4 271.0L636.4 271.3L639.4 271.5L642.3 271.8L645.3 272.1L648.3 272.4L651.3 272.7L654.3 273.0L657.3 273.3L660.3 273.6L663.2 273.9L666.2 274.2L669.2 274.6L672.2 274.9L675.2 275.3L678.1 275.6L681.1 276.0L684.1 276.4L687.1 276.8L690.0 277.2L693.0 277.6L696.0 278.0L699.0 278.4L701.9 278.9L704.9 279.3L707.9 279.8L710.8 280.2L713.8 280.7L716.8 281.1L719.7 281.6L722.7 282.1L725.6 282.5L728.6 283.0L731.6 283.5L734.5 284.0L737.5 284.5L740.4 285.0L743.4 285.5L746.4 286.0L749.3 286.5L752.3 287.0L755.2 287.5L758.2 288.1L761.1 288.6L764.1 289.1L767.1 289.6L770.0 290.0L773.0 290.5L775.9 291.0L778.9 291.5L781.9 292.0L784.8 292.4L787.8 292.9L790.8 293.3L793.7 293.8L796.7 294.2L799.7 294.6L802.6 295.0L805.6 295.4L808.6 295.8L811.6 296.2L814.5 296.6L817.5 297.0L820.5 297.4L823.5 297.7L826.4 298.1L829.4 298.5L832.4 298.8L835.4 299.2L838.4 299.5L841.3 299.9L844.3 300.2L847.3 300.5L850.3 300.8L853.3 301.2L856.3 301.5L859.2 301.8L862.2 302.1L865.2 302.4L868.2 302.8L871.2 303.1L874.1 303.4L877.1 303.8L880.1 304.1L883.1 304.5L886.1 304.9L889.0 305.3L892.0 305.7L895.0 306.1L897.9 306.6L900.9 307.1L903.9 307.5L906.8 308.1L909.8 308.6L912.7 309.1L915.6 309.7L918.6 310.3L921.5 310.9L924.5 311.5L927.4 312.1L930.3 312.8L933.3 313.4L936.2 314.1L939.1 314.7L942.0 315.4L945.0 316.1L947.9 316.8L950.8 317.5L953.7 318.2L956.6 318.9L959.5 319.6L962.4 320.4L965.3 321.1L968.2 321.9L971.1 322.7L974.0 323.6L976.9 324.4L979.7 325.3L982.6 326.2L985.4 327.2L988.3 328.1L991.1 329.1L993.9 330.1L996.7 331.2L999.5 332.2L1002.3 333.3L1005.1 334.5L1007.9 335.6L1010.6 336.8L1013.4 338.0L1016.1 339.2L1018.8 340.5L1021.5 341.7L1024.3 343.0L1026.9 344.4L1029.6 345.7L1032.3 347.1L1034.9 348.5L1037.5 350.0L1040.1 351.5L1042.7 353.0L1045.2 354.5L1047.8 356.1L1050.3 357.8L1052.8 359.4L1055.2 361.1L1057.7 362.8L1060.2 364.5L1062.6 366.3L1065.0 368.0L1067.5 369.7L1069.9 371.5L1072.3 373.2L1074.7 374.9L1077.1 376.7L1079.5 378.5L1081.9 380.3L1084.2 382.2L1086.5 384.0L1088.8 385.9L1091.1 387.8L1093.4 389.7L1095.7 391.6L1098.0 393.5L1100.3 395.5L1102.6 397.4L1104.8 399.4L1107.0 401.5L1109.2 403.5L1111.4 405.5L1113.7 407.5L1115.9 409.5L1118.1 411.5L1120.3 413.6L1122.4 415.7L1124.4 417.9L1126.3 420.2L1128.2 422.5L1130.1 424.8L1131.9 427.2L1133.6 429.7L1135.3 432.1L1137.0 434.6L1138.6 437.1L1140.2 439.7L1141.7 442.3L1143.1 444.9L1144.5 447.6L1145.9 450.2L1147.2 452.9L1148.4 455.7L1149.7 458.4L1150.9 461.2L1152.0 463.9L1153.1 466.7L1154.2 469.5L1155.3 472.3L1156.4 475.1L1157.4 477.9L1158.5 480.7L1159.5 483.5L1160.5 486.4L1161.5 489.2L1162.5 492.0L1163.5 494.9L1164.5 497.7L1165.4 500.5L1166.4 503.4L1167.4 506.2L1168.4 509.0L1169.4 511.9L1170.4 514.7L1171.3 517.5L1172.3 520.4L1173.2 523.2L1174.2 526.1L1175.1 528.9L1176.0 531.8L1177.0 534.6L1178.0 537.5L1178.9 540.3L1179.9 543.2L1180.8 546.0L1181.8 548.8L1182.7 551.7L1183.6 554.6L1184.5 557.4L1185.3 560.3L1186.2 563.2L1186.9 566.1L1187.7 569.0L1188.4 571.9L1189.1 574.8L1189.8 577.7L1190.4 580.7L1191.0 583.6L1191.6 586.5L1192.2 589.5L1192.7 592.4L1193.3 595.4L1193.8 598.4L1194.2 601.3L1194.7 604.3L1195.1 607.3L1195.6 610.2L1196.0 613.2L1196.4 616.2L1196.8 619.1L1197.2 622.1L1197.7 625.1L1198.1 628.0L1198.5 631.0L1198.9 634.0L1199.3 637.0L1199.7 639.9L1200.2 642.9L1200.7 645.9L1201.2 648.8L1201.7 651.8L1202.3 654.7L1202.8 657.7L1203.3 660.6L1203.8 663.6L1204.3 666.5L1204.7 669.5L1205.1 672.5L1205.5 675.5L1205.8 678.4L1206.2 681.4L1206.6 684.4L1207.0 687.4L1207.4 690.3L1207.8 693.3L1208.2 696.3L1208.6 699.2L1209.0 702.2L1209.4 705.2L1209.8 708.2L1210.1 711.2L1210.5 714.1L1210.8 717.1L1211.1 720.1L1211.4 723.1L1211.7 726.1L1212.0 729.1L1212.3 732.0L1212.6 735.0L1212.9 738.0L1213.3 741.0L1213.6 744.0L1214.0 746.9L1214.4 749.9L1214.8 752.9L1215.2 755.9L1215.6 758.8L1216.0 761.8L1216.4 764.8L1216.8 767.8L1217.2 770.7L1217.5 773.7L1217.9 776.7L1218.3 779.7L1218.7 782.6L1219.1 785.6L1219.5 788.6L1220.0 791.5L1220.5 794.5L1221.0 797.5L1221.4 800.4L1221.9 803.4L1222.3 806.4L1222.7 809.3L1223.1 812.3L1223.5 815.3L1223.9 818.3L1224.2 821.2L1224.6 824.2L1225.0 827.2L1225.3 830.2L1225.7 833.1L1226.1 836.1L1226.4 839.1L1226.8 842.1L1227.2 845.1L1227.5 848.0L1227.9 851.0L1228.3 854.0L1228.7 857.0L1229.1 859.9L1229.5 862.9L1229.9 865.9L1230.3 868.9L1230.8 871.8L1231.2 874.8L1231.7 877.7L1232.2 880.7L1232.7 883.7L1233.2 886.6L1233.7 889.6L1234.3 892.5L1234.9 895.5L1235.5 898.4L1236.1 901.3L1236.7 904.3L1237.4 907.2L1238.0 910.1L1238.7 913.1L1239.4 916.0L1240.0 918.9L1240.7 921.8L1241.3 924.8L1242.0 927.7L1242.6 930.6L1243.3 933.5L1243.9 936.5L1244.6 939.4L1245.2 942.3L1245.9 945.3L1246.5 948.2L1247.1 951.1L1247.8 954.1L1248.4 957.0L1249.0 959.9L1249.6 962.9L1250.2 965.8L1250.9 968.7L1251.5 971.7L1252.2 974.6L1252.8 977.5L1253.5 980.4L1254.3 983.4L1255.0 986.3L1255.8 989.2L1256.6 992.1L1257.4 994.9L1258.2 997.8L1259.1 1000.7L1260.0 1003.6L1260.9 1006.4L1261.9 1009.2L1262.9 1012.1L1263.8 1014.9L1264.8 1017.7L1265.8 1020.6L1266.8 1023.4L1267.8 1026.3L1268.8 1029.1L1269.8 1031.9L1271.0 1034.6L1272.2 1037.4L1273.5 1040.1L1274.9 1042.7L1276.2 1045.4L1277.6 1048.1L1279.0 1050.7L1280.4 1053.4L1281.9 1056.0L1283.4 1058.6L1285.0 1061.1L1286.7 1063.5L1288.5 1065.9L1290.4 1068.1L1292.4 1070.4L1294.5 1072.5L1296.6 1074.7L1298.7 1076.8L1300.9 1078.9L1303.0 1081.0L1305.2 1083.1L1307.4 1085.1L1309.6 1087.1L1311.8 1089.1L1314.2 1091.0L1316.5 1092.8L1319.0 1094.6L1321.4 1096.3L1323.9 1098.0L1326.3 1099.7L1328.7 1101.5L1331.1 1103.3L1333.5 1105.1L1335.9 1106.8L1338.4 1108.5L1340.9 1110.2L1343.4 1111.7L1346.0 1113.2L1348.6 1114.7L1351.3 1116.1L1353.9 1117.5L1356.6 1118.9L1359.2 1120.3L1361.9 1121.7L1364.5 1123.1L1367.2 1124.5L1369.8 1126.0L1372.4 1127.4L1375.1 1128.8L1377.7 1130.2L1380.4 1131.6L1383.0 1133.1L1385.6 1134.5L1388.3 1135.9L1390.9 1137.4L1393.6 1138.8L1396.2 1140.2L1398.8 1141.7L1401.5 1143.1L1404.1 1144.5L1406.8 1145.9L1409.4 1147.3L1412.1 1148.7L1414.7 1150.1L1417.4 1151.5L1420.1 1152.8L1422.7 1154.2L1425.4 1155.6L1428.1 1156.9L1430.8 1158.2L1433.5 1159.5L1436.2 1160.8L1438.9 1162.1L1441.6 1163.4L1444.3 1164.6L1447.1 1165.8L1449.8 1167.0L1452.6 1168.2L1455.4 1169.4L1458.1 1170.5L1460.9 1171.6L1463.7 1172.7L1466.5 1173.8L1469.3 1174.9L1472.1 1175.9L1475.0 1176.9L1477.8 1177.8L1480.6 1178.8L1483.5 1179.7L1486.4 1180.6L1489.2 1181.4L1492.1 1182.3L1495.0 1183.0L1497.9 1183.8L1500.8 1184.5L1503.7 1185.2L1506.6 1185.9L1509.6 1186.6L1512.5 1187.2L1515.4 1187.8L1518.4 1188.4L1521.3 1189.0L1524.3 1189.5L1527.2 1190.1L1530.2 1190.6L1533.1 1191.2L1536.1 1191.7L1539.0 1192.2L1542.0 1192.7L1544.9 1193.2L1547.9 1193.7L1550.9 1194.1L1553.8 1194.6L1556.8 1195.0L1559.8 1195.5L1562.7 1195.9L1565.7 1196.3L1568.7 1196.7L1571.7 1197.1L1574.6 1197.5L1577.6 1197.9L1580.6 1198.3L1583.6 1198.6L1586.5 1199.0L1589.5 1199.4L1592.5 1199.8L1595.5 1200.1L1598.4 1200.5L1601.4 1200.8L1604.4 1201.2L1607.4 1201.5L1610.4 1201.9L1613.3 1202.2L1616.3 1202.5L1619.3 1202.8L1622.3 1203.1L1625.3 1203.4L1628.3 1203.7L1631.3 1204.0L1634.2 1204.2L1637.2 1204.5L1640.2 1204.7L1643.2 1204.9L1646.2 1205.2L1649.2 1205.4L1652.2 1205.7L1655.2 1205.9L1658.2 1206.2L1661.2 1206.4L1664.1 1206.7L1667.1 1206.9L1670.1 1207.2L1673.1 1207.5L1676.1 1207.7L1679.1 1208.0L1682.1 1208.3L1685.1 1208.5L1688.1 1208.8L1691.0 1209.1L1694.0 1209.3L1697.0 1209.6L1700.0 1209.8L1703.0 1210.1L1706.0 1210.3L1709.0 1210.6L1712.0 1210.8L1715.0 1211.1L1718.0 1211.3L1720.9 1211.6L1723.9 1211.8L1726.9 1212.0L1729.9 1212.3L1732.9 1212.5L1735.9 1212.7L1738.9 1213.0L1741.9 1213.2L1744.9 1213.4L1747.9 1213.6L1750.9 1213.8L1753.9 1214.0L1756.8 1214.2L1759.8 1214.4L1762.8 1214.6L1765.8 1214.8L1768.8 1215.0L1771.8 1215.2L1774.8 1215.3L1777.8 1215.5L1780.8 1215.7L1783.8 1215.9L1786.8 1216.0L1789.8 1216.2L1792.8 1216.4L1795.8 1216.5L1798.8 1216.7L1801.8 1216.9L1804.8 1217.0L1807.8 1217.2L1810.8 1217.4L1813.8 1217.6L1816.7 1217.8L1819.7 1218.0L1822.7 1218.1L1825.7 1218.3L1828.7 1218.5L1831.7 1218.7L1834.7 1218.9L1837.7 1219.1L1840.7 1219.3L1843.7 1219.5L1846.7 1219.7L1849.7 1219.9L1852.7 1220.1L1855.7 1220.2L1858.7 1220.4L1861.7 1220.6L1864.7 1220.8L1867.7 1220.9L1870.7 1221.1L1873.6 1221.2L1876.6 1221.4L1879.6 1221.5L1882.6 1221.7L1885.6 1221.8L1888.6 1222.0L1891.6 1222.1L1894.6 1222.2L1897.6 1222.4L1900.6 1222.5L1903.6 1222.6L1906.6 1222.7L1909.6 1222.8L1912.6 1223.0L1915.6 1223.1L1918.6 1223.2L1921.6 1223.3L1924.6 1223.4L1927.6 1223.5L1930.6 1223.6L1933.6 1223.6L1936.6 1223.7L1939.6 1223.8L1942.6 1223.9L1945.6 1224.0L1948.6 1224.1L1949.6 1224.1"/>
<path stroke="#C47AE3" d="M525.5 266.2L528.5 266.4L531.5 266.6L534.5 266.7L537.5 266.9L540.5 267.1L543.5 267.3L546.5 267.5L549.5 267.7L552.4 267.9L555.4 268.1L558.4 268.3L561.4 268.5L564.4 268.7L567.4 268.9L570.4 269.1L573.4 269.3L576.4 269.5L579.4 269.7L582.4 269.9L585.4 270.2L588.4 270.4L591.4 270.6L594.3 270.8L597.3 271.1L600.3 271.3L603.3 271.6L606.3 271.8L609.3 272.1L612.3 272.4L615.3 272.6L618.3 272.9L621.2 273.2L624.2 273.6L627.2 273.9L630.2 274.2L633.2 274.6L636.1 274.9L639.1 275.3L642.1 275.7L645.1 276.1L648.0 276.5L651.0 276.9L654.0 277.3L656.9 277.8L659.9 278.2L662.9 278.6L665.8 279.1L668.8 279.6L671.8 280.0L674.7 280.5L677.7 281.0L680.6 281.5L683.6 282.1L686.5 282.6L689.5 283.2L692.4 283.7L695.4 284.3L698.3 284.9L701.3 285.5L704.2 286.1L707.1 286.8L710.1 287.4L713.0 288.0L715.9 288.7L718.8 289.4L721.8 290.0L724.7 290.7L727.6 291.4L730.5 292.0L733.5 292.7L736.4 293.4L739.3 294.1L742.2 294.7L745.2 295.4L748.1 296.1L751.0 296.8L753.9 297.4L756.8 298.1L759.8 298.8L762.7 299.5L765.6 300.1L768.5 300.8L771.5 301.5L774.4 302.1L777.3 302.8L780.2 303.4L783.2 304.1L786.1 304.7L789.0 305.4L792.0 306.0L794.9 306.6L797.9 307.2L800.8 307.8L803.7 308.3L806.7 308.9L809.6 309.4L812.6 310.0L815.5 310.5L818.5 311.0L821.5 311.5L824.4 312.0L827.4 312.5L830.3 312.9L833.3 313.4L836.3 313.9L839.2 314.3L842.2 314.8L845.1 315.3L848.1 315.8L851.1 316.3L854.0 316.8L857.0 317.4L859.9 317.9L862.9 318.5L865.8 319.0L868.8 319.6L871.7 320.2L874.6 320.8L877.6 321.4L880.5 322.0L883.4 322.6L886.4 323.3L889.3 323.9L892.2 324.6L895.1 325.3L898.1 326.0L901.0 326.7L903.9 327.5L906.8 328.3L909.6 329.1L912.5 329.9L915.4 330.8L918.2 331.7L921.1 332.7L923.9 333.7L926.7 334.7L929.5 335.8L932.2 337.0L935.0 338.1L937.7 339.3L940.5 340.6L943.2 341.9L945.8 343.2L948.5 344.6L951.2 346.0L953.8 347.4L956.4 348.8L959.0 350.3L961.6 351.8L964.2 353.3L966.8 354.9L969.3 356.5L971.9 358.1L974.4 359.7L976.9 361.3L979.4 363.0L981.8 364.7L984.3 366.4L986.7 368.1L989.1 369.9L991.5 371.7L993.9 373.5L996.3 375.4L998.6 377.2L1001.0 379.1L1003.3 381.0L1005.6 383.0L1007.9 384.9L1010.2 386.8L1012.4 388.8L1014.7 390.8L1016.9 392.8L1019.2 394.7L1021.4 396.7L1023.6 398.8L1025.9 400.8L1028.1 402.8L1030.3 404.8L1032.5 406.8L1034.7 408.9L1036.9 410.9L1039.1 413.0L1041.3 415.0L1043.5 417.1L1045.6 419.1L1047.8 421.2L1050.0 423.3L1052.1 425.4L1054.3 427.5L1056.4 429.6L1058.6 431.7L1060.7 433.8L1062.8 435.9L1065.0 438.0L1067.1 440.1L1069.2 442.2L1071.3 444.4L1073.4 446.5L1075.5 448.7L1077.6 450.8L1079.7 453.0L1081.7 455.2L1083.8 457.4L1085.9 459.5L1087.9 461.7L1090.1 463.8L1092.2 465.9L1094.3 468.1L1096.4 470.2L1098.4 472.4L1100.4 474.6L1102.4 476.9L1104.3 479.2L1106.2 481.5L1108.1 483.8L1110.0 486.2L1111.9 488.5L1113.8 490.8L1115.6 493.2L1117.5 495.5L1119.4 497.9L1121.2 500.2L1123.0 502.7L1124.7 505.1L1126.4 507.6L1128.0 510.1L1129.6 512.7L1131.1 515.3L1132.6 517.9L1134.0 520.5L1135.5 523.1L1137.0 525.7L1138.5 528.3L1140.0 530.9L1141.5 533.5L1142.9 536.1L1144.3 538.7L1145.5 541.5L1146.7 544.2L1147.9 547.0L1149.0 549.7L1150.2 552.5L1151.3 555.3L1152.4 558.1L1153.5 560.9L1154.6 563.7L1155.7 566.5L1156.8 569.3L1157.9 572.1L1159.0 574.8L1160.0 577.7L1161.1 580.5L1162.1 583.3L1163.1 586.1L1164.0 589.0L1164.9 591.8L1165.8 594.7L1166.6 597.6L1167.4 600.5L1168.2 603.4L1168.9 606.3L1169.7 609.2L1170.4 612.1L1171.1 615.0L1171.8 617.9L1172.6 620.8L1173.3 623.7L1174.0 626.6L1174.7 629.6L1175.5 632.5L1176.2 635.4L1177.0 638.3L1177.8 641.2L1178.7 644.0L1179.6 646.9L1180.6 649.7L1181.6 652.5L1182.7 655.3L1183.7 658.1L1184.7 661.0L1185.6 663.8L1186.5 666.7L1187.3 669.6L1188.1 672.5L1188.9 675.4L1189.6 678.3L1190.4 681.2L1191.1 684.1L1191.8 687.0L1192.5 689.9L1193.2 692.8L1193.9 695.7L1194.6 698.7L1195.3 701.6L1196.0 704.5L1196.7 707.4L1197.4 710.3L1198.1 713.3L1198.8 716.2L1199.5 719.1L1200.2 722.0L1201.0 724.9L1201.7 727.8L1202.4 730.7L1203.1 733.6L1203.8 736.6L1204.5 739.5L1205.1 742.4L1205.8 745.3L1206.3 748.3L1206.9 751.2L1207.5 754.2L1208.0 757.1L1208.6 760.1L1209.2 763.0L1209.8 765.9L1210.4 768.9L1211.1 771.8L1211.7 774.7L1212.4 777.7L1213.0 780.6L1213.7 783.5L1214.3 786.5L1214.9 789.4L1215.5 792.3L1216.0 795.3L1216.6 798.2L1217.2 801.2L1217.8 804.1L1218.4 807.1L1219.0 810.0L1219.6 812.9L1220.1 815.9L1220.7 818.8L1221.3 821.8L1221.9 824.7L1222.5 827.7L1223.1 830.6L1223.7 833.5L1224.3 836.5L1224.9 839.4L1225.5 842.4L1226.1 845.3L1226.7 848.2L1227.3 851.2L1227.8 854.1L1228.4 857.1L1229.0 860.0L1229.5 863.0L1230.0 865.9L1230.5 868.9L1231.0 871.8L1231.5 874.8L1232.0 877.8L1232.5 880.7L1233.1 883.7L1233.7 886.6L1234.4 889.5L1235.2 892.4L1236.0 895.3L1236.8 898.2L1237.6 901.1L1238.4 904.0L1239.1 906.9L1239.8 909.8L1240.5 912.7L1241.2 915.6L1241.9 918.5L1242.6 921.4L1243.3 924.4L1244.0 927.3L1244.7 930.2L1245.4 933.1L1246.1 936.0L1246.8 939.0L1247.5 941.9L1248.2 944.8L1248.9 947.7L1249.6 950.6L1250.3 953.5L1251.0 956.4L1251.7 959.4L1252.5 962.3L1253.2 965.2L1253.9 968.1L1254.7 971.0L1255.5 973.9L1256.3 976.8L1257.1 979.7L1257.9 982.5L1258.8 985.4L1259.8 988.3L1260.7 991.1L1261.7 993.9L1262.7 996.8L1263.7 999.6L1264.7 1002.4L1265.7 1005.2L1266.8 1008.0L1267.8 1010.9L1268.9 1013.7L1270.0 1016.5L1271.1 1019.2L1272.3 1022.0L1273.5 1024.7L1274.7 1027.5L1276.0 1030.2L1277.4 1032.9L1278.7 1035.5L1280.2 1038.2L1281.6 1040.8L1283.2 1043.3L1284.8 1045.8L1286.6 1048.2L1288.5 1050.5L1290.6 1052.7L1292.7 1054.8L1294.9 1056.8L1297.1 1058.8L1299.3 1060.8L1301.6 1062.8L1303.9 1064.8L1306.2 1066.7L1308.5 1068.6L1310.9 1070.4L1313.3 1072.2L1315.7 1074.0L1318.2 1075.6L1320.7 1077.3L1323.2 1078.9L1325.8 1080.5L1328.3 1082.0L1330.9 1083.6L1333.4 1085.2L1336.0 1086.7L1338.6 1088.2L1341.2 1089.7L1343.8 1091.2L1346.5 1092.6L1349.1 1094.1L1351.7 1095.5L1354.4 1096.9L1357.0 1098.3L1359.7 1099.7L1362.3 1101.1L1365.0 1102.5L1367.7 1103.9L1370.3 1105.3L1373.0 1106.6L1375.6 1108.0L1378.3 1109.4L1380.9 1110.8L1383.6 1112.2L1386.2 1113.6L1388.9 1115.0L1391.5 1116.5L1394.2 1117.9L1396.8 1119.3L1399.4 1120.8L1402.1 1122.2L1404.7 1123.7L1407.3 1125.2L1409.9 1126.6L1412.5 1128.1L1415.2 1129.5L1417.8 1131.0L1420.4 1132.4L1423.1 1133.8L1425.7 1135.2L1428.4 1136.6L1431.1 1137.9L1433.8 1139.2L1436.5 1140.5L1439.2 1141.8L1441.9 1143.0L1444.6 1144.3L1447.4 1145.5L1450.1 1146.7L1452.9 1147.8L1455.7 1149.0L1458.5 1150.1L1461.2 1151.2L1464.0 1152.3L1466.8 1153.4L1469.6 1154.4L1472.5 1155.5L1475.3 1156.5L1478.1 1157.5L1480.9 1158.5L1483.8 1159.5L1486.6 1160.4L1489.5 1161.3L1492.3 1162.3L1495.2 1163.1L1498.0 1164.0L1500.9 1164.8L1503.8 1165.6L1506.7 1166.4L1509.6 1167.1L1512.5 1167.8L1515.5 1168.5L1518.4 1169.2L1521.3 1169.8L1524.2 1170.5L1527.2 1171.1L1530.1 1171.7L1533.0 1172.3L1536.0 1172.9L1538.9 1173.4L1541.9 1174.0L1544.8 1174.6L1547.8 1175.1L1550.7 1175.7L1553.7 1176.3L1556.6 1176.8L1559.6 1177.3L1562.5 1177.9L1565.5 1178.4L1568.4 1178.9L1571.4 1179.4L1574.3 1179.9L1577.3 1180.4L1580.3 1180.9L1583.2 1181.3L1586.2 1181.7L1589.2 1182.1L1592.1 1182.5L1595.1 1182.9L1598.1 1183.3L1601.1 1183.6L1604.0 1184.0L1607.0 1184.3L1610.0 1184.6L1613.0 1185.0L1616.0 1185.2L1619.0 1185.5L1622.0 1185.8L1624.9 1186.1L1627.9 1186.3L1630.9 1186.6L1633.9 1186.8L1636.9 1187.1L1639.9 1187.3L1642.9 1187.5L1645.9 1187.8L1648.9 1188.0L1651.8 1188.3L1654.8 1188.6L1657.8 1188.9L1660.8 1189.2L1663.8 1189.5L1666.8 1189.8L1669.7 1190.2L1672.7 1190.5L1675.7 1190.8L1678.7 1191.2L1681.7 1191.5L1684.6 1191.9L1687.6 1192.2L1690.6 1192.5L1693.6 1192.8L1696.6 1193.2L1699.6 1193.5L1702.5 1193.7L1705.5 1194.0L1708.5 1194.3L1711.5 1194.6L1714.5 1194.8L1717.5 1195.1L1720.5 1195.4L1723.5 1195.6L1726.5 1195.9L1729.4 1196.1L1732.4 1196.4L1735.4 1196.6L1738.4 1196.8L1741.4 1197.1L1744.4 1197.3L1747.4 1197.5L1750.4 1197.7L1753.4 1198.0L1756.4 1198.2L1759.4 1198.4L1762.3 1198.6L1765.3 1198.8L1768.3 1199.0L1771.3 1199.2L1774.3 1199.4L1777.3 1199.6L1780.3 1199.8L1783.3 1200.0L1786.3 1200.2L1789.3 1200.3L1792.3 1200.5L1795.3 1200.7L1798.3 1200.9L1801.3 1201.1L1804.3 1201.3L1807.3 1201.5L1810.3 1201.7L1813.2 1201.9L1816.2 1202.1L1819.2 1202.3L1822.2 1202.5L1825.2 1202.7L1828.2 1202.9L1831.2 1203.1L1834.2 1203.3L1837.2 1203.5L1840.2 1203.7L1843.2 1203.9L1846.2 1204.1L1849.2 1204.3L1852.2 1204.4L1855.2 1204.6L1858.2 1204.8L1861.1 1204.9L1864.1 1205.1L1867.1 1205.2L1870.1 1205.3L1873.1 1205.5L1876.1 1205.6L1879.1 1205.7L1882.1 1205.9L1885.1 1206.0L1888.1 1206.1L1891.1 1206.2L1894.1 1206.3L1897.1 1206.4L1900.1 1206.5L1903.1 1206.6L1906.1 1206.7L1909.1 1206.8L1912.1 1206.9L1915.1 1207.0L1918.1 1207.1L1921.1 1207.1L1924.1 1207.2L1927.1 1207.3L1930.1 1207.4L1933.1 1207.4L1936.1 1207.5L1939.1 1207.6L1942.1 1207.6L1945.1 1207.7L1948.1 1207.8L1949.6 1207.8"/>
</g>
<g fill="#000" shape-rendering="crispEdges">
<rect x="543" y="247.1" width="3" height="10.4"/>
<rect x="543" y="266.05" width="3" height="10.4"/>
<rect x="543" y="285" width="3" height="10.4"/>
<rect x="543" y="303.95" width="3" height="10.4"/>
<rect x="543" y="322.9" width="3" height="10.4"/>
<rect x="543" y="341.85" width="3" height="10.4"/>
<rect x="543" y="360.8" width="3" height="10.4"/>
<rect x="543" y="379.75" width="3" height="10.4"/>
<rect x="543" y="398.7" width="3" height="10.4"/>
<rect x="543" y="417.65" width="3" height="10.4"/>
<rect x="543" y="436.6" width="3" height="10.4"/>
<rect x="543" y="455.55" width="3" height="10.4"/>
<rect x="543" y="474.5" width="3" height="10.4"/>
<rect x="543" y="493.45" width="3" height="10.4"/>
<rect x="543" y="512.4" width="3" height="10.4"/>
<rect x="543" y="531.35" width="3" height="10.4"/>
<rect x="543" y="550.3" width="3" height="10.4"/>
<rect x="543" y="569.25" width="3" height="10.4"/>
<rect x="543" y="588.2" width="3" height="10.4"/>
<rect x="543" y="607.15" width="3" height="10.4"/>
<rect x="543" y="626.1" width="3" height="10.4"/>
<rect x="543" y="645.05" width="3" height="10.4"/>
<rect x="543" y="664" width="3" height="10.4"/>
<rect x="543" y="682.95" width="3" height="10.4"/>
<rect x="543" y="701.9" width="3" height="10.4"/>
<rect x="543" y="720.85" width="3" height="10.4"/>
<rect x="543" y="739.8" width="3" height="10.4"/>
<rect x="543" y="758.75" width="3" height="10.4"/>
<rect x="543" y="777.7" width="3" height="10.4"/>
<rect x="543" y="796.65" width="3" height="10.4"/>
<rect x="543" y="815.6" width="3" height="10.4"/>
<rect x="543" y="834.55" width="3" height="10.4"/>
<rect x="543" y="853.5" width="3" height="10.4"/>
<rect x="543" y="872.45" width="3" height="10.4"/>
<rect x="543" y="891.4" width="3" height="10.4"/>
<rect x="543" y="910.35" width="3" height="10.4"/>
<rect x="543" y="929.3" width="3" height="10.4"/>
<rect x="543" y="948.25" width="3" height="10.4"/>
<rect x="543" y="967.2" width="3" height="10.4"/>
<rect x="543" y="986.15" width="3" height="10.4"/>
<rect x="543" y="1005.1" width="3" height="10.4"/>
<rect x="543" y="1024.05" width="3" height="10.4"/>
<rect x="543" y="1043" width="3" height="10.4"/>
<rect x="543" y="1061.95" width="3" height="10.4"/>
<rect x="543" y="1080.9" width="3" height="10.4"/>
<rect x="543" y="1099.85" width="3" height="10.4"/>
<rect x="543" y="1118.8" width="3" height="10.4"/>
<rect x="543" y="1137.75" width="3" height="10.4"/>
<rect x="543" y="1156.7" width="3" height="10.4"/>
<rect x="543" y="1175.65" width="3" height="10.4"/>
<rect x="543" y="1194.6" width="3" height="10.4"/>
<rect x="543" y="1213.55" width="3" height="10.4"/>
<rect x="543" y="1232.5" width="3" height="10.4"/>
<rect x="543" y="1251.45" width="3" height="10.4"/>
<rect x="543" y="1270.4" width="3" height="10.4"/>
<rect x="543" y="1289.35" width="3" height="10.4"/>
<rect x="543" y="1308.3" width="3" height="10.4"/>
<rect x="543" y="1327.25" width="3" height="10.4"/>
<rect x="543" y="1346.2" width="3" height="10.4"/>
<rect x="543" y="1365.15" width="3" height="10.4"/>
<rect x="543" y="1384.1" width="3" height="10.4"/>
<rect x="543" y="1403.05" width="3" height="10.4"/>
<rect x="543" y="1422" width="3" height="10.4"/>
<rect x="543" y="1440.95" width="3" height="10.4"/>
<rect x="543" y="1459.9" width="3" height="9.1"/>
<rect x="818" y="249.1" width="3" height="10.4"/>
<rect x="818" y="268.05" width="3" height="10.4"/>
<rect x="818" y="287" width="3" height="10.4"/>
<rect x="818" y="305.95" width="3" height="10.4"/>
<rect x="818" y="324.9" width="3" height="10.4"/>
<rect x="818" y="343.85" width="3" height="10.4"/>
<rect x="818" y="362.8" width="3" height="10.4"/>
<rect x="818" y="381.75" width="3" height="10.4"/>
<rect x="818" y="400.7" width="3" height="10.4"/>
<rect x="818" y="419.65" width="3" height="10.4"/>
<rect x="818" y="438.6" width="3" height="10.4"/>
<rect x="818" y="457.55" width="3" height="10.4"/>
<rect x="818" y="476.5" width="3" height="10.4"/>
<rect x="818" y="495.45" width="3" height="10.4"/>
<rect x="818" y="514.4" width="3" height="10.4"/>
<rect x="818" y="533.35" width="3" height="10.4"/>
<rect x="818" y="552.3" width="3" height="10.4"/>
<rect x="818" y="571.25" width="3" height="10.4"/>
<rect x="818" y="590.2" width="3" height="10.4"/>
<rect x="818" y="609.15" width="3" height="10.4"/>
<rect x="818" y="628.1" width="3" height="10.4"/>
<rect x="818" y="647.05" width="3" height="10.4"/>
<rect x="818" y="666" width="3" height="10.4"/>
<rect x="818" y="684.95" width="3" height="10.4"/>
<rect x="818" y="703.9" width="3" height="10.4"/>
<rect x="818" y="722.85" width="3" height="10.4"/>
<rect x="818" y="741.8" width="3" height="10.4"/>
<rect x="818" y="760.75" width="3" height="10.4"/>
<rect x="818" y="779.7" width="3" height="10.4"/>
<rect x="818" y="798.65" width="3" height="10.4"/>
<rect x="818" y="817.6" width="3" height="10.4"/>
<rect x="818" y="836.55" width="3" height="10.4"/>
<rect x="818" y="855.5" width="3" height="10.4"/>
<rect x="818" y="874.45" width="3" height="10.4"/>
<rect x="818" y="893.4" width="3" height="10.4"/>
<rect x="818" y="912.35" width="3" height="10.4"/>
<rect x="818" y="931.3" width="3" height="10.4"/>
<rect x="818" y="950.25" width="3" height="10.4"/>
<rect x="818" y="969.2" width="3" height="10.4"/>
<rect x="818" y="988.15" width="3" height="10.4"/>
<rect x="818" y="1007.1" width="3" height="10.4"/>
<rect x="818" y="1026.05" width="3" height="10.4"/>
<rect x="818" y="1045" width="3" height="10.4"/>
<rect x="818" y="1063.95" width="3" height="10.4"/>
<rect x="818" y="1082.9" width="3" height="10.4"/>
<rect x="818" y="1101.85" width="3" height="10.4"/>
<rect x="818" y="1120.8" width="3" height="10.4"/>
<rect x="818" y="1139.75" width="3" height="10.4"/>
<rect x="818" y="1158.7" width="3" height="10.4"/>
<rect x="818" y="1177.65" width="3" height="10.4"/>
<rect x="818" y="1196.6" width="3" height="10.4"/>
<rect x="818" y="1215.55" width="3" height="10.4"/>
<rect x="818" y="1234.5" width="3" height="10.4"/>
<rect x="818" y="1253.45" width="3" height="10.4"/>
<rect x="818" y="1272.4" width="3" height="10.4"/>
<rect x="818" y="1291.35" width="3" height="10.4"/>
<rect x="818" y="1310.3" width="3" height="10.4"/>
<rect x="818" y="1329.25" width="3" height="10.4"/>
<rect x="818" y="1348.2" width="3" height="10.4"/>
<rect x="818" y="1367.15" width="3" height="10.4"/>
<rect x="818" y="1386.1" width="3" height="10.4"/>
<rect x="818" y="1405.05" width="3" height="10.4"/>
<rect x="818" y="1424" width="3" height="10.4"/>
<rect x="818" y="1442.95" width="3" height="10.4"/>
<rect x="818" y="1461.9" width="3" height="7.1"/>
<rect x="1098" y="246.3" width="3" height="10.4"/>
<rect x="1098" y="265.25" width="3" height="10.4"/>
<rect x="1098" y="284.2" width="3" height="10.4"/>
<rect x="1098" y="303.15" width="3" height="10.4"/>
<rect x="1098" y="322.1" width="3" height="10.4"/>
<rect x="1098" y="341.05" width="3" height="10.4"/>
<rect x="1098" y="360" width="3" height="10.4"/>
<rect x="1098" y="378.95" width="3" height="10.4"/>
<rect x="1098" y="397.9" width="3" height="10.4"/>
<rect x="1098" y="416.85" width="3" height="10.4"/>
<rect x="1098" y="435.8" width="3" height="10.4"/>
<rect x="1098" y="454.75" width="3" height="10.4"/>
<rect x="1098" y="473.7" width="3" height="10.4"/>
<rect x="1098" y="492.65" width="3" height="10.4"/>
<rect x="1098" y="511.6" width="3" height="10.4"/>
<rect x="1098" y="530.55" width="3" height="10.4"/>
<rect x="1098" y="549.5" width="3" height="10.4"/>
<rect x="1098" y="568.45" width="3" height="10.4"/>
<rect x="1098" y="587.4" width="3" height="10.4"/>
<rect x="1098" y="606.35" width="3" height="10.4"/>
<rect x="1098" y="625.3" width="3" height="10.4"/>
<rect x="1098" y="644.25" width="3" height="10.4"/>
<rect x="1098" y="663.2" width="3" height="10.4"/>
<rect x="1098" y="682.15" width="3" height="10.4"/>
<rect x="1098" y="701.1" width="3" height="10.4"/>
<rect x="1098" y="720.05" width="3" height="10.4"/>
<rect x="1098" y="739" width="3" height="10.4"/>
<rect x="1098" y="757.95" width="3" height="10.4"/>
<rect x="1098" y="776.9" width="3" height="10.4"/>
<rect x="1098" y="795.85" width="3" height="10.4"/>
<rect x="1098" y="814.8" width="3" height="10.4"/>
<rect x="1098" y="833.75" width="3" height="10.4"/>
<rect x="1098" y="852.7" width="3" height="10.4"/>
<rect x="1098" y="871.65" width="3" height="10.4"/>
<rect x="1098" y="890.6" width="3" height="10.4"/>
<rect x="1098" y="909.55" width="3" height="10.4"/>
<rect x="1098" y="928.5" width="3" height="10.4"/>
<rect x="1098" y="947.45" width="3" height="10.4"/>
<rect x="1098" y="966.4" width="3" height="10.4"/>
<rect x="1098" y="985.35" width="3" height="10.4"/>
<rect x="1098" y="1004.3" width="3" height="10.4"/>
<rect x="1098" y="1023.25" width="3" height="10.4"/>
<rect x="1098" y="1042.2" width="3" height="10.4"/>
<rect x="1098" y="1061.15" width="3" height="10.4"/>
<rect x="1098" y="1080.1" width="3" height="10.4"/>
<rect x="1098" y="1099.05" width="3" height="10.4"/>
<rect x="1098" y="1118" width="3" height="10.4"/>
<rect x="1098" y="1136.95" width="3" height="10.4"/>
<rect x="1098" y="1155.9" width="3" height="10.4"/>
<rect x="1098" y="1174.85" width="3" height="10.4"/>
<rect x="1098" y="1193.8" width="3" height="10.4"/>
<rect x="1098" y="1212.75" width="3" height="10.4"/>
<rect x="1098" y="1231.7" width="3" height="10.4"/>
<rect x="1098" y="1250.65" width="3" height="10.4"/>
<rect x="1098" y="1269.6" width="3" height="10.4"/>
<rect x="1098" y="1288.55" width="3" height="10.4"/>
<rect x="1098" y="1307.5" width="3" height="10.4"/>
<rect x="1098" y="1326.45" width="3" height="10.4"/>
<rect x="1098" y="1345.4" width="3" height="10.4"/>
<rect x="1098" y="1364.35" width="3" height="10.4"/>
<rect x="1098" y="1383.3" width="3" height="10.4"/>
<rect x="1098" y="1402.25" width="3" height="10.4"/>
<rect x="1098" y="1421.2" width="3" height="10.4"/>
<rect x="1098" y="1440.15" width="3" height="10.4"/>
<rect x="1098" y="1459.1" width="3" height="9.9"/>
<rect x="1297" y="244.1" width="3" height="10.4"/>
<rect x="1297" y="263.05" width="3" height="10.4"/>
<rect x="1297" y="282" width="3" height="10.4"/>
<rect x="1297" y="300.95" width="3" height="10.4"/>
<rect x="1297" y="319.9" width="3" height="10.4"/>
<rect x="1297" y="338.85" width="3" height="10.4"/>
<rect x="1297" y="357.8" width="3" height="10.4"/>
<rect x="1297" y="376.75" width="3" height="10.4"/>
<rect x="1297" y="395.7" width="3" height="10.4"/>
<rect x="1297" y="414.65" width="3" height="10.4"/>
<rect x="1297" y="433.6" width="3" height="10.4"/>
<rect x="1297" y="452.55" width="3" height="10.4"/>
<rect x="1297" y="471.5" width="3" height="10.4"/>
<rect x="1297" y="490.45" width="3" height="10.4"/>
<rect x="1297" y="509.4" width="3" height="10.4"/>
<rect x="1297" y="528.35" width="3" height="10.4"/>
<rect x="1297" y="547.3" width="3" height="10.4"/>
<rect x="1297" y="566.25" width="3" height="10.4"/>
<rect x="1297" y="585.2" width="3" height="10.4"/>
<rect x="1297" y="604.15" width="3" height="10.4"/>
<rect x="1297" y="623.1" width="3" height="10.4"/>
<rect x="1297" y="642.05" width="3" height="10.4"/>
<rect x="1297" y="661" width="3" height="10.4"/>
<rect x="1297" y="679.95" width="3" height="10.4"/>
<rect x="1297" y="698.9" width="3" height="10.4"/>
<rect x="1297" y="717.85" width="3" height="10.4"/>
<rect x="1297" y="736.8" width="3" height="10.4"/>
<rect x="1297" y="755.75" width="3" height="10.4"/>
<rect x="1297" y="774.7" width="3" height="10.4"/>
<rect x="1297" y="793.65" width="3" height="10.4"/>
<rect x="1297" y="812.6" width="3" height="10.4"/>
<rect x="1297" y="831.55" width="3" height="10.4"/>
<rect x="1297" y="850.5" width="3" height="10.4"/>
<rect x="1297" y="869.45" width="3" height="10.4"/>
<rect x="1297" y="888.4" width="3" height="10.4"/>
<rect x="1297" y="907.35" width="3" height="10.4"/>
<rect x="1297" y="926.3" width="3" height="10.4"/>
<rect x="1297" y="945.25" width="3" height="10.4"/>
<rect x="1297" y="964.2" width="3" height="10.4"/>
<rect x="1297" y="983.15" width="3" height="10.4"/>
<rect x="1297" y="1002.1" width="3" height="10.4"/>
<rect x="1297" y="1021.05" width="3" height="10.4"/>
<rect x="1297" y="1040" width="3" height="10.4"/>
<rect x="1297" y="1058.95" width="3" height="10.4"/>
<rect x="1297" y="1077.9" width="3" height="10.4"/>
<rect x="1297" y="1096.85" width="3" height="10.4"/>
<rect x="1297" y="1115.8" width="3" height="10.4"/>
<rect x="1297" y="1134.75" width="3" height="10.4"/>
<rect x="1297" y="1153.7" width="3" height="10.4"/>
<rect x="1297" y="1172.65" width="3" height="10.4"/>
<rect x="1297" y="1191.6" width="3" height="10.4"/>
<rect x="1297" y="1210.55" width="3" height="10.4"/>
<rect x="1297" y="1229.5" width="3" height="10.4"/>
<rect x="1297" y="1248.45" width="3" height="10.4"/>
<rect x="1297" y="1267.4" width="3" height="10.4"/>
<rect x="1297" y="1286.35" width="3" height="10.4"/>
<rect x="1297" y="1305.3" width="3" height="10.4"/>
<rect x="1297" y="1324.25" width="3" height="10.4"/>
<rect x="1297" y="1343.2" width="3" height="10.4"/>
<rect x="1297" y="1362.15" width="3" height="10.4"/>
<rect x="1297" y="1381.1" width="3" height="10.4"/>
<rect x="1297" y="1400.05" width="3" height="10.4"/>
<rect x="1297" y="1419" width="3" height="10.4"/>
<rect x="1297" y="1437.95" width="3" height="10.4"/>
<rect x="1297" y="1456.9" width="3" height="10.4"/>
<rect x="1953" y="1123.1" width="3" height="6.55"/>
<rect x="1953" y="1138.2" width="3" height="10.4"/>
<rect x="1953" y="1157.15" width="3" height="10.4"/>
<rect x="1953" y="1176.1" width="3" height="10.4"/>
<rect x="1953" y="1195.05" width="3" height="10.4"/>
<rect x="1953" y="1214" width="3" height="10.4"/>
<rect x="1953" y="1232.95" width="3" height="10.4"/>
<rect x="1953" y="1251.9" width="3" height="10.4"/>
<rect x="1953" y="1270.85" width="3" height="10.4"/>
<rect x="1953" y="1289.8" width="3" height="10.4"/>
<rect x="1953" y="1308.75" width="3" height="10.4"/>
<rect x="1953" y="1327.7" width="3" height="10.4"/>
<rect x="1953" y="1346.65" width="3" height="10.4"/>
<rect x="1953" y="1365.6" width="3" height="10.4"/>
<rect x="1953" y="1384.55" width="3" height="10.4"/>
<rect x="1953" y="1403.5" width="3" height="10.4"/>
<rect x="1953" y="1422.45" width="3" height="10.4"/>
<rect x="1953" y="1441.4" width="3" height="10.4"/>
<rect x="1953" y="1460.35" width="3" height="8.65"/>
</g>
<g fill="#000" shape-rendering="crispEdges">
<rect x="315" y="43" width="6" height="1441"/>
<rect x="2077" y="43" width="6" height="1441"/>
<rect x="315" y="43" width="1768" height="6"/>
<rect x="304" y="1466" width="1779" height="6"/>
<rect x="290" y="1357" width="28" height="6"/>
<rect x="304" y="1247" width="14" height="6"/>
<rect x="290" y="1138" width="28" height="6"/>
<rect x="304" y="1028" width="14" height="6"/>
<rect x="290" y="919" width="28" height="6"/>
<rect x="304" y="810" width="14" height="6"/>
<rect x="290" y="700" width="28" height="6"/>
<rect x="304" y="591" width="14" height="6"/>
<rect x="290" y="481" width="28" height="6"/>
<rect x="304" y="372" width="14" height="6"/>
<rect x="290" y="263" width="28" height="6"/>
<rect x="304" y="153" width="14" height="6"/>
<rect x="290" y="44" width="28" height="6"/>
<rect x="441" y="1469" width="6" height="29"/>
<rect x="567" y="1469" width="6" height="15"/>
<rect x="693" y="1469" width="6" height="29"/>
<rect x="819" y="1469" width="6" height="15"/>
<rect x="944" y="1469" width="6" height="29"/>
<rect x="1070" y="1469" width="6" height="15"/>
<rect x="1196" y="1469" width="6" height="29"/>
<rect x="1322" y="1469" width="6" height="15"/>
<rect x="1448" y="1469" width="6" height="29"/>
<rect x="1574" y="1469" width="6" height="15"/>
<rect x="1699" y="1469" width="6" height="29"/>
<rect x="1825" y="1469" width="6" height="15"/>
<rect x="1951" y="1469" width="6" height="29"/>
</g>
<g class="tk">
<text x="232.73" y="1381.3">0</text>
<text x="196.23" y="1162.3">20</text>
<text x="196.23" y="943.3">40</text>
<text x="196.23" y="724.3">60</text>
<text x="196.23" y="505.3">80</text>
<text x="159.73" y="287.3">100</text>
<text x="159.73" y="68.3">120</text>
<text x="424.65" y="1574.5">0</text>
<text x="639.78" y="1574.5">100</text>
<text x="890.8" y="1574.5">200</text>
<text x="1142.87" y="1574.5">300</text>
<text x="1396.09" y="1574.5">400</text>
<text x="1645.97" y="1574.5">500</text>
<text x="1898.1" y="1574.5">600</text>
</g>
<text class="ti" y="1710"><tspan x="866.33" letter-spacing="-0.37">Temperature (</tspan><tspan x="1408.07" dy="5.27" font-size="95.92">°</tspan><tspan x="1441.58" dy="-5.27">C</tspan><tspan x="1503.51">)</tspan></text>
<text class="ti" transform="translate(74.8 935.25) rotate(-90)" letter-spacing="-0.16">Weight (%)</text>
<g class="an">
<text y="218"><tspan x="464.75">40 </tspan><tspan x="553.71" dy="4.61" font-size="83.93">°</tspan><tspan x="582.25" dy="-4.61">C</tspan></text>
<text y="216.6"><tspan x="729.63">150 </tspan><tspan x="856.96" dy="4.61" font-size="83.93">°</tspan><tspan x="885.35" dy="-4.61">C</tspan></text>
<text y="217"><tspan x="997.87">260 </tspan><tspan x="1128.86" dy="4.61" font-size="83.93">°</tspan><tspan x="1157.15" dy="-4.61">C</tspan></text>
<text y="217.6"><tspan x="1231.5">340 </tspan><tspan x="1362.26" dy="4.61" font-size="83.93">°</tspan><tspan x="1390.55" dy="-4.61">C</tspan></text>
<text y="1098.6"><tspan x="1843.07">600 </tspan><tspan x="1970.71" dy="4.61" font-size="83.93">°</tspan><tspan x="1999.05" dy="-4.61">C</tspan></text>
</g>
<g stroke-linecap="round" fill="none">
<line x1="1640.25" y1="117.4" x2="1760.55" y2="117.4" stroke="#757575" stroke-width="8.9"/>
<line x1="1639.9" y1="186" x2="1760.9" y2="186" stroke="#FA3E3E" stroke-width="8.2"/>
<line x1="1639.9" y1="254.1" x2="1760.9" y2="254.1" stroke="#046DE2" stroke-width="8.2"/>
<line x1="1639.9" y1="322" x2="1760.9" y2="322" stroke="#00AE68" stroke-width="8.2"/>
<line x1="1639.9" y1="390" x2="1760.9" y2="390" stroke="#C47AE3" stroke-width="8.2"/>
</g>
<g class="lg">
<text x="1774.47" y="136.6">S/G = 0:30</text>
<text x="1774.47" y="204.6">S/G = 10:20</text>
<text x="1774.47" y="272.6">S/G = 15:15</text>
<text x="1774.47" y="340.6">S/G = 20:10</text>
<text x="1774.47" y="408.6">S/G = 30:0</text>
</g>
</svg>
</body>
</html>
